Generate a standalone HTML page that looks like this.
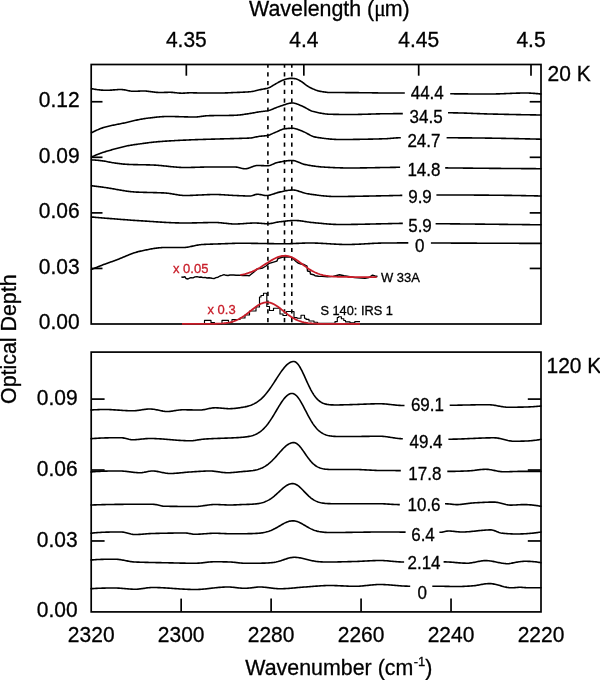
<!DOCTYPE html>
<html><head><meta charset="utf-8"><title>Optical depth spectra</title>
<style>html,body{margin:0;padding:0;background:#fff;width:600px;height:680px;overflow:hidden}
svg{display:block;font-family:"Liberation Sans",sans-serif;will-change:transform}
text{stroke-width:0.3px}</style></head>
<body>
<svg width="600" height="680" viewBox="0 0 600 680" font-family="Liberation Sans, sans-serif">
<rect x="91.20" y="64.50" width="449.80" height="259.50" fill="none" stroke="#000" stroke-width="1.7"/>
<rect x="91.20" y="352.10" width="449.80" height="259.80" fill="none" stroke="#000" stroke-width="1.7"/>
<line x1="186.33" y1="64.50" x2="186.33" y2="75.70" stroke="#000" stroke-width="1.7"/>
<line x1="303.83" y1="64.50" x2="303.83" y2="75.70" stroke="#000" stroke-width="1.7"/>
<line x1="418.69" y1="64.50" x2="418.69" y2="75.70" stroke="#000" stroke-width="1.7"/>
<line x1="531.00" y1="64.50" x2="531.00" y2="75.70" stroke="#000" stroke-width="1.7"/>
<line x1="91.20" y1="268.44" x2="102.50" y2="268.44" stroke="#000" stroke-width="1.7"/>
<line x1="529.70" y1="268.44" x2="541.00" y2="268.44" stroke="#000" stroke-width="1.7"/>
<line x1="91.20" y1="212.88" x2="102.50" y2="212.88" stroke="#000" stroke-width="1.7"/>
<line x1="529.70" y1="212.88" x2="541.00" y2="212.88" stroke="#000" stroke-width="1.7"/>
<line x1="91.20" y1="157.31" x2="102.50" y2="157.31" stroke="#000" stroke-width="1.7"/>
<line x1="529.70" y1="157.31" x2="541.00" y2="157.31" stroke="#000" stroke-width="1.7"/>
<line x1="91.20" y1="101.75" x2="102.50" y2="101.75" stroke="#000" stroke-width="1.7"/>
<line x1="529.70" y1="101.75" x2="541.00" y2="101.75" stroke="#000" stroke-width="1.7"/>
<line x1="181.16" y1="598.60" x2="181.16" y2="611.90" stroke="#000" stroke-width="1.7"/>
<line x1="271.12" y1="598.60" x2="271.12" y2="611.90" stroke="#000" stroke-width="1.7"/>
<line x1="361.08" y1="598.60" x2="361.08" y2="611.90" stroke="#000" stroke-width="1.7"/>
<line x1="451.04" y1="598.60" x2="451.04" y2="611.90" stroke="#000" stroke-width="1.7"/>
<line x1="91.20" y1="540.97" x2="104.60" y2="540.97" stroke="#000" stroke-width="1.7"/>
<line x1="527.80" y1="540.97" x2="541.00" y2="540.97" stroke="#000" stroke-width="1.7"/>
<line x1="91.20" y1="470.03" x2="104.60" y2="470.03" stroke="#000" stroke-width="1.7"/>
<line x1="527.80" y1="470.03" x2="541.00" y2="470.03" stroke="#000" stroke-width="1.7"/>
<line x1="91.20" y1="399.10" x2="104.60" y2="399.10" stroke="#000" stroke-width="1.7"/>
<line x1="527.80" y1="399.10" x2="541.00" y2="399.10" stroke="#000" stroke-width="1.7"/>
<line x1="267.90" y1="64.50" x2="267.90" y2="324.00" stroke="#000" stroke-width="1.6" stroke-dasharray="4.2 4.58" stroke-dashoffset="1"/>
<line x1="284.50" y1="64.50" x2="284.50" y2="324.00" stroke="#000" stroke-width="1.6" stroke-dasharray="4.2 4.58" stroke-dashoffset="1"/>
<line x1="291.80" y1="64.50" x2="291.80" y2="324.00" stroke="#000" stroke-width="1.6" stroke-dasharray="4.2 4.58" stroke-dashoffset="1"/>
<polyline points="91.5,88.70 92.5,88.89 93.5,89.06 94.5,89.23 95.5,89.39 96.5,89.53 97.5,89.67 98.5,89.79 99.5,89.90 100.5,90.00 101.5,90.09 102.5,90.16 103.5,90.22 104.5,90.26 105.5,90.29 106.5,90.30 107.5,90.29 108.5,90.26 109.5,90.22 110.5,90.16 111.5,90.08 112.5,90.01 113.5,89.92 114.5,89.84 115.5,89.75 116.5,89.68 117.5,89.61 118.5,89.56 119.5,89.52 120.5,89.50 121.5,89.52 122.5,89.59 123.5,89.72 124.5,89.88 125.5,90.07 126.5,90.28 127.5,90.50 128.5,90.71 129.5,90.90 130.5,91.07 131.5,91.20 132.5,91.28 133.5,91.30 134.5,91.29 135.5,91.26 136.5,91.23 137.5,91.19 138.5,91.14 139.5,91.10 140.5,91.06 141.5,91.03 142.5,91.01 143.5,91.00 144.5,91.02 145.5,91.07 146.5,91.14 147.5,91.24 148.5,91.35 149.5,91.47 150.5,91.60 151.5,91.73 152.5,91.86 153.5,92.00 154.5,92.12 155.5,92.23 156.5,92.33 157.5,92.41 158.5,92.47 159.5,92.50 160.5,92.50 161.5,92.49 162.5,92.47 163.5,92.44 164.5,92.41 165.5,92.39 166.5,92.36 167.5,92.33 168.5,92.31 169.5,92.30 170.5,92.30 171.5,92.34 172.5,92.41 173.5,92.49 174.5,92.60 175.5,92.71 176.5,92.82 177.5,92.94 178.5,93.03 179.5,93.12 180.5,93.17 181.5,93.20 182.5,93.19 183.5,93.15 184.5,93.09 185.5,93.03 186.5,92.95 187.5,92.89 188.5,92.83 189.5,92.80 190.5,92.80 191.5,92.81 192.5,92.82 193.5,92.84 194.5,92.86 195.5,92.88 196.5,92.91 197.5,92.93 198.5,92.95 199.5,92.97 200.5,92.99 201.5,93.00 202.5,93.00 203.5,93.00 204.5,93.00 205.5,93.00 206.5,93.00 207.5,93.00 208.5,93.00 209.5,93.00 210.5,93.00 211.5,93.00 212.5,93.00 213.5,93.00 214.5,93.00 215.5,93.00 216.5,93.00 217.5,93.00 218.5,93.00 219.5,93.00 220.5,93.00 221.5,92.99 222.5,92.98 223.5,92.96 224.5,92.93 225.5,92.90 226.5,92.86 227.5,92.83 228.5,92.78 229.5,92.74 230.5,92.70 231.5,92.65 232.5,92.61 233.5,92.56 234.5,92.52 235.5,92.48 236.5,92.44 237.5,92.40 238.5,92.37 239.5,92.33 240.5,92.29 241.5,92.25 242.5,92.21 243.5,92.16 244.5,92.11 245.5,92.06 246.5,92.00 247.5,91.94 248.5,91.87 249.5,91.79 250.5,91.70 251.5,91.57 252.5,91.41 253.5,91.21 254.5,91.00 255.5,90.76 256.5,90.52 257.5,90.27 258.5,90.03 259.5,89.81 260.5,89.60 261.5,89.41 262.5,89.22 263.5,89.04 264.5,88.85 265.5,88.64 266.5,88.41 267.5,88.15 268.5,87.83 269.5,87.43 270.5,86.94 271.5,86.39 272.5,85.79 273.5,85.18 274.5,84.56 275.5,83.96 276.5,83.40 277.5,82.87 278.5,82.31 279.5,81.75 280.5,81.20 281.5,80.71 282.5,80.28 283.5,79.94 284.5,79.63 285.5,79.34 286.5,79.05 287.5,78.80 288.5,78.59 289.5,78.42 290.5,78.33 291.5,78.30 292.5,78.35 293.5,78.46 294.5,78.62 295.5,78.80 296.5,79.03 297.5,79.40 298.5,79.89 299.5,80.43 300.5,80.98 301.5,81.59 302.5,82.28 303.5,83.01 304.5,83.77 305.5,84.54 306.5,85.29 307.5,86.00 308.5,86.66 309.5,87.25 310.5,87.74 311.5,88.22 312.5,88.68 313.5,89.12 314.5,89.54 315.5,89.94 316.5,90.30 317.5,90.63 318.5,90.91 319.5,91.15 320.5,91.34 321.5,91.53 322.5,91.70 323.5,91.87 324.5,92.02 325.5,92.16 326.5,92.28 327.5,92.38 328.5,92.45 329.5,92.49 330.5,92.51 331.5,92.51 332.5,92.52 333.5,92.53 334.5,92.54 335.5,92.54 336.5,92.55 337.5,92.55 338.5,92.56 339.5,92.56 340.5,92.56 341.5,92.56 342.5,92.57 343.5,92.57 344.5,92.57 345.5,92.58 346.5,92.58 347.5,92.59 348.5,92.59 349.5,92.60 350.5,92.60 351.5,92.61 352.5,92.62 353.5,92.63 354.5,92.63 355.5,92.64 356.5,92.65 357.5,92.66 358.5,92.67 359.5,92.68 360.5,92.69 361.5,92.70 362.5,92.71 363.5,92.73 364.5,92.74 365.5,92.75 366.5,92.76 367.5,92.77 368.5,92.78 369.5,92.79 370.5,92.81 371.5,92.82 372.5,92.83 373.5,92.85 374.5,92.87 375.5,92.89 376.5,92.90 377.5,92.92 378.5,92.94 379.5,92.95 380.5,92.97 381.5,92.98 382.5,92.99 383.5,93.00 384.5,93.00 385.5,93.00 386.5,93.00 387.5,93.00 388.5,93.00 389.5,93.00 390.5,93.00 391.5,93.00 392.5,93.00 393.5,93.00 394.5,93.00 395.5,93.00 396.5,93.00 397.5,93.00 398.5,93.00 399.5,93.00 400.5,93.00 401.5,93.00 402.5,93.00 403.5,93.00 404.5,93.00 405.5,93.00 406.5,93.01 407.5,93.01 408.5,93.02 409.5,93.03 410.5,93.04 411.5,93.05 412.5,93.06 413.5,93.07 414.5,93.09 415.5,93.10 416.5,93.12 417.5,93.14 418.5,93.16 419.5,93.18 420.5,93.20 421.5,93.22 422.5,93.24 423.5,93.26 424.5,93.28 425.5,93.31 426.5,93.33 427.5,93.35 428.5,93.38 429.5,93.40 430.5,93.43 431.5,93.45 432.5,93.47 433.5,93.50 434.5,93.52 435.5,93.54 436.5,93.56 437.5,93.59 438.5,93.61 439.5,93.63 440.5,93.65 441.5,93.67 442.5,93.69 443.5,93.70 444.5,93.72 445.5,93.74 446.5,93.75 447.5,93.76 448.5,93.78 449.5,93.79 450.5,93.80 451.5,93.80 452.5,93.81 453.5,93.82 454.5,93.83 455.5,93.83 456.5,93.84 457.5,93.85 458.5,93.86 459.5,93.86 460.5,93.87 461.5,93.88 462.5,93.89 463.5,93.89 464.5,93.90 465.5,93.91 466.5,93.91 467.5,93.92 468.5,93.93 469.5,93.93 470.5,93.94 471.5,93.94 472.5,93.95 473.5,93.95 474.5,93.96 475.5,93.96 476.5,93.97 477.5,93.97 478.5,93.98 479.5,93.98 480.5,93.98 481.5,93.99 482.5,93.99 483.5,93.99 484.5,93.99 485.5,94.00 486.5,94.00 487.5,94.00 488.5,94.00 489.5,94.00 490.5,94.00 491.5,93.99 492.5,93.99 493.5,93.97 494.5,93.96 495.5,93.94 496.5,93.91 497.5,93.89 498.5,93.86 499.5,93.83 500.5,93.79 501.5,93.76 502.5,93.72 503.5,93.68 504.5,93.64 505.5,93.60 506.5,93.56 507.5,93.52 508.5,93.47 509.5,93.43 510.5,93.39 511.5,93.35 512.5,93.31 513.5,93.27 514.5,93.24 515.5,93.20 516.5,93.17 517.5,93.14 518.5,93.11 519.5,93.08 520.5,93.06 521.5,93.04 522.5,93.02 523.5,93.01 524.5,93.00 525.5,93.00 526.5,93.00 527.5,93.02 528.5,93.05 529.5,93.09 530.5,93.13 531.5,93.19 532.5,93.26 533.5,93.33 534.5,93.41 535.5,93.49 536.5,93.58 537.5,93.67 538.5,93.76 539.5,93.86 540.5,93.95 541.0,94.00" fill="none" stroke="#000" stroke-width="1.60" stroke-linejoin="round" stroke-linecap="round"/>
<polyline points="91.5,132.80 92.5,132.29 93.5,131.78 94.5,131.28 95.5,130.80 96.5,130.32 97.5,129.87 98.5,129.43 99.5,129.01 100.5,128.61 101.5,128.23 102.5,127.88 103.5,127.55 104.5,127.25 105.5,126.97 106.5,126.70 107.5,126.45 108.5,126.21 109.5,125.97 110.5,125.75 111.5,125.54 112.5,125.33 113.5,125.12 114.5,124.93 115.5,124.73 116.5,124.54 117.5,124.34 118.5,124.15 119.5,123.95 120.5,123.76 121.5,123.55 122.5,123.34 123.5,123.13 124.5,122.91 125.5,122.68 126.5,122.45 127.5,122.21 128.5,121.98 129.5,121.74 130.5,121.50 131.5,121.27 132.5,121.03 133.5,120.79 134.5,120.56 135.5,120.33 136.5,120.11 137.5,119.89 138.5,119.68 139.5,119.48 140.5,119.28 141.5,119.09 142.5,118.92 143.5,118.75 144.5,118.60 145.5,118.45 146.5,118.32 147.5,118.20 148.5,118.08 149.5,117.96 150.5,117.84 151.5,117.72 152.5,117.61 153.5,117.49 154.5,117.38 155.5,117.27 156.5,117.17 157.5,117.07 158.5,116.97 159.5,116.89 160.5,116.81 161.5,116.74 162.5,116.67 163.5,116.62 164.5,116.57 165.5,116.54 166.5,116.51 167.5,116.50 168.5,116.50 169.5,116.50 170.5,116.51 171.5,116.52 172.5,116.54 173.5,116.55 174.5,116.57 175.5,116.60 176.5,116.62 177.5,116.64 178.5,116.67 179.5,116.70 180.5,116.73 181.5,116.75 182.5,116.78 183.5,116.81 184.5,116.84 185.5,116.86 186.5,116.89 187.5,116.91 188.5,116.93 189.5,116.95 190.5,116.97 191.5,116.98 192.5,116.99 193.5,117.00 194.5,117.00 195.5,116.99 196.5,116.94 197.5,116.86 198.5,116.76 199.5,116.65 200.5,116.51 201.5,116.38 202.5,116.24 203.5,116.10 204.5,115.98 205.5,115.87 206.5,115.78 207.5,115.72 208.5,115.69 209.5,115.66 210.5,115.64 211.5,115.62 212.5,115.60 213.5,115.58 214.5,115.57 215.5,115.56 216.5,115.55 217.5,115.54 218.5,115.53 219.5,115.52 220.5,115.51 221.5,115.50 222.5,115.49 223.5,115.49 224.5,115.48 225.5,115.47 226.5,115.46 227.5,115.45 228.5,115.43 229.5,115.42 230.5,115.40 231.5,115.38 232.5,115.36 233.5,115.34 234.5,115.31 235.5,115.28 236.5,115.23 237.5,115.16 238.5,115.07 239.5,114.97 240.5,114.85 241.5,114.73 242.5,114.59 243.5,114.45 244.5,114.31 245.5,114.16 246.5,114.01 247.5,113.87 248.5,113.73 249.5,113.58 250.5,113.41 251.5,113.24 252.5,113.07 253.5,112.88 254.5,112.70 255.5,112.51 256.5,112.33 257.5,112.16 258.5,111.99 259.5,111.83 260.5,111.68 261.5,111.55 262.5,111.43 263.5,111.32 264.5,111.20 265.5,111.07 266.5,110.92 267.5,110.75 268.5,110.53 269.5,110.26 270.5,109.94 271.5,109.58 272.5,109.19 273.5,108.78 274.5,108.36 275.5,107.94 276.5,107.53 277.5,107.13 278.5,106.75 279.5,106.41 280.5,106.10 281.5,105.77 282.5,105.43 283.5,105.08 284.5,104.73 285.5,104.40 286.5,104.08 287.5,103.78 288.5,103.52 289.5,103.31 290.5,103.14 291.5,103.04 292.5,103.00 293.5,103.06 294.5,103.21 295.5,103.45 296.5,103.77 297.5,104.13 298.5,104.54 299.5,104.97 300.5,105.41 301.5,105.84 302.5,106.25 303.5,106.69 304.5,107.19 305.5,107.74 306.5,108.32 307.5,108.91 308.5,109.48 309.5,110.03 310.5,110.51 311.5,110.93 312.5,111.25 313.5,111.51 314.5,111.77 315.5,112.02 316.5,112.27 317.5,112.50 318.5,112.73 319.5,112.94 320.5,113.14 321.5,113.33 322.5,113.50 323.5,113.66 324.5,113.80 325.5,113.93 326.5,114.03 327.5,114.12 328.5,114.19 329.5,114.24 330.5,114.26 331.5,114.28 332.5,114.31 333.5,114.33 334.5,114.35 335.5,114.37 336.5,114.38 337.5,114.40 338.5,114.41 339.5,114.43 340.5,114.44 341.5,114.45 342.5,114.46 343.5,114.47 344.5,114.48 345.5,114.49 346.5,114.49 347.5,114.50 348.5,114.50 349.5,114.50 350.5,114.50 351.5,114.50 352.5,114.49 353.5,114.48 354.5,114.47 355.5,114.46 356.5,114.44 357.5,114.43 358.5,114.41 359.5,114.39 360.5,114.36 361.5,114.34 362.5,114.32 363.5,114.29 364.5,114.26 365.5,114.23 366.5,114.21 367.5,114.18 368.5,114.15 369.5,114.12 370.5,114.09 371.5,114.06 372.5,114.03 373.5,114.00 374.5,113.97 375.5,113.95 376.5,113.92 377.5,113.89 378.5,113.87 379.5,113.85 380.5,113.82 381.5,113.80 382.5,113.79 383.5,113.77 384.5,113.76 385.5,113.74 386.5,113.73 387.5,113.72 388.5,113.71 389.5,113.70 390.5,113.70 391.5,113.69 392.5,113.68 393.5,113.67 394.5,113.67 395.5,113.66 396.5,113.65 397.5,113.64 398.5,113.63 399.5,113.63 400.5,113.62 401.5,113.61 402.5,113.59 403.5,113.58 404.5,113.57 405.5,113.55 406.5,113.54 407.5,113.52 408.5,113.50 409.5,113.49 410.5,113.47 411.5,113.45 412.5,113.43 413.5,113.41 414.5,113.38 415.5,113.36 416.5,113.34 417.5,113.32 418.5,113.30 419.5,113.27 420.5,113.25 421.5,113.23 422.5,113.20 423.5,113.18 424.5,113.16 425.5,113.13 426.5,113.11 427.5,113.09 428.5,113.07 429.5,113.04 430.5,113.02 431.5,113.00 432.5,112.98 433.5,112.96 434.5,112.94 435.5,112.93 436.5,112.91 437.5,112.89 438.5,112.88 439.5,112.87 440.5,112.85 441.5,112.84 442.5,112.83 443.5,112.82 444.5,112.82 445.5,112.81 446.5,112.80 447.5,112.80 448.5,112.80 449.5,112.80 450.5,112.80 451.5,112.81 452.5,112.82 453.5,112.83 454.5,112.85 455.5,112.86 456.5,112.88 457.5,112.90 458.5,112.93 459.5,112.95 460.5,112.98 461.5,113.01 462.5,113.04 463.5,113.07 464.5,113.10 465.5,113.14 466.5,113.17 467.5,113.21 468.5,113.24 469.5,113.28 470.5,113.32 471.5,113.36 472.5,113.40 473.5,113.44 474.5,113.48 475.5,113.51 476.5,113.55 477.5,113.59 478.5,113.63 479.5,113.67 480.5,113.71 481.5,113.74 482.5,113.78 483.5,113.81 484.5,113.84 485.5,113.88 486.5,113.91 487.5,113.94 488.5,113.96 489.5,113.99 490.5,114.01 491.5,114.04 492.5,114.06 493.5,114.08 494.5,114.11 495.5,114.13 496.5,114.15 497.5,114.17 498.5,114.20 499.5,114.22 500.5,114.24 501.5,114.26 502.5,114.29 503.5,114.31 504.5,114.33 505.5,114.35 506.5,114.37 507.5,114.39 508.5,114.42 509.5,114.44 510.5,114.46 511.5,114.48 512.5,114.50 513.5,114.52 514.5,114.54 515.5,114.56 516.5,114.58 517.5,114.60 518.5,114.62 519.5,114.64 520.5,114.66 521.5,114.68 522.5,114.69 523.5,114.71 524.5,114.73 525.5,114.75 526.5,114.77 527.5,114.78 528.5,114.80 529.5,114.82 530.5,114.84 531.5,114.85 532.5,114.87 533.5,114.89 534.5,114.90 535.5,114.92 536.5,114.93 537.5,114.95 538.5,114.96 539.5,114.98 540.5,114.99 541.0,115.00" fill="none" stroke="#000" stroke-width="1.60" stroke-linejoin="round" stroke-linecap="round"/>
<polyline points="91.5,157.00 92.5,156.55 93.5,156.11 94.5,155.67 95.5,155.24 96.5,154.83 97.5,154.42 98.5,154.03 99.5,153.65 100.5,153.28 101.5,152.93 102.5,152.59 103.5,152.26 104.5,151.94 105.5,151.62 106.5,151.32 107.5,151.02 108.5,150.73 109.5,150.44 110.5,150.15 111.5,149.88 112.5,149.60 113.5,149.33 114.5,149.05 115.5,148.78 116.5,148.51 117.5,148.24 118.5,147.97 119.5,147.70 120.5,147.43 121.5,147.17 122.5,146.92 123.5,146.67 124.5,146.44 125.5,146.21 126.5,146.00 127.5,145.80 128.5,145.61 129.5,145.43 130.5,145.26 131.5,145.09 132.5,144.94 133.5,144.79 134.5,144.64 135.5,144.50 136.5,144.36 137.5,144.22 138.5,144.08 139.5,143.95 140.5,143.81 141.5,143.67 142.5,143.53 143.5,143.39 144.5,143.26 145.5,143.12 146.5,142.98 147.5,142.84 148.5,142.71 149.5,142.58 150.5,142.46 151.5,142.34 152.5,142.23 153.5,142.12 154.5,142.02 155.5,141.93 156.5,141.84 157.5,141.75 158.5,141.67 159.5,141.59 160.5,141.51 161.5,141.43 162.5,141.36 163.5,141.29 164.5,141.22 165.5,141.16 166.5,141.09 167.5,141.03 168.5,140.97 169.5,140.91 170.5,140.85 171.5,140.79 172.5,140.74 173.5,140.68 174.5,140.63 175.5,140.57 176.5,140.52 177.5,140.47 178.5,140.41 179.5,140.36 180.5,140.31 181.5,140.26 182.5,140.22 183.5,140.17 184.5,140.12 185.5,140.08 186.5,140.03 187.5,139.99 188.5,139.95 189.5,139.90 190.5,139.86 191.5,139.82 192.5,139.78 193.5,139.75 194.5,139.71 195.5,139.67 196.5,139.63 197.5,139.60 198.5,139.57 199.5,139.53 200.5,139.50 201.5,139.47 202.5,139.43 203.5,139.40 204.5,139.37 205.5,139.34 206.5,139.31 207.5,139.28 208.5,139.26 209.5,139.23 210.5,139.20 211.5,139.17 212.5,139.14 213.5,139.12 214.5,139.09 215.5,139.06 216.5,139.03 217.5,139.01 218.5,138.98 219.5,138.95 220.5,138.92 221.5,138.89 222.5,138.87 223.5,138.84 224.5,138.81 225.5,138.79 226.5,138.76 227.5,138.74 228.5,138.71 229.5,138.69 230.5,138.66 231.5,138.64 232.5,138.61 233.5,138.59 234.5,138.56 235.5,138.53 236.5,138.51 237.5,138.48 238.5,138.45 239.5,138.42 240.5,138.38 241.5,138.35 242.5,138.32 243.5,138.29 244.5,138.26 245.5,138.22 246.5,138.18 247.5,138.14 248.5,138.09 249.5,138.03 250.5,137.96 251.5,137.85 252.5,137.69 253.5,137.51 254.5,137.31 255.5,137.09 256.5,136.88 257.5,136.67 258.5,136.48 259.5,136.32 260.5,136.19 261.5,136.09 262.5,136.00 263.5,135.93 264.5,135.85 265.5,135.75 266.5,135.64 267.5,135.50 268.5,135.28 269.5,134.95 270.5,134.55 271.5,134.10 272.5,133.62 273.5,133.15 274.5,132.70 275.5,132.30 276.5,131.87 277.5,131.42 278.5,130.96 279.5,130.50 280.5,130.06 281.5,129.66 282.5,129.31 283.5,129.02 284.5,128.82 285.5,128.70 286.5,128.59 287.5,128.50 288.5,128.42 289.5,128.35 290.5,128.29 291.5,128.26 292.5,128.25 293.5,128.30 294.5,128.45 295.5,128.67 296.5,128.96 297.5,129.30 298.5,129.68 299.5,130.07 300.5,130.48 301.5,130.87 302.5,131.25 303.5,131.65 304.5,132.11 305.5,132.61 306.5,133.15 307.5,133.71 308.5,134.27 309.5,134.82 310.5,135.35 311.5,135.83 312.5,136.26 313.5,136.62 314.5,136.90 315.5,137.09 316.5,137.26 317.5,137.43 318.5,137.59 319.5,137.75 320.5,137.90 321.5,138.05 322.5,138.19 323.5,138.33 324.5,138.45 325.5,138.58 326.5,138.69 327.5,138.80 328.5,138.91 329.5,139.00 330.5,139.09 331.5,139.17 332.5,139.24 333.5,139.30 334.5,139.36 335.5,139.40 336.5,139.44 337.5,139.47 338.5,139.49 339.5,139.50 340.5,139.50 341.5,139.50 342.5,139.50 343.5,139.49 344.5,139.49 345.5,139.49 346.5,139.48 347.5,139.47 348.5,139.47 349.5,139.46 350.5,139.45 351.5,139.44 352.5,139.43 353.5,139.42 354.5,139.41 355.5,139.40 356.5,139.38 357.5,139.37 358.5,139.35 359.5,139.34 360.5,139.32 361.5,139.31 362.5,139.29 363.5,139.27 364.5,139.25 365.5,139.23 366.5,139.21 367.5,139.19 368.5,139.17 369.5,139.15 370.5,139.13 371.5,139.11 372.5,139.08 373.5,139.06 374.5,139.03 375.5,139.01 376.5,138.98 377.5,138.96 378.5,138.93 379.5,138.90 380.5,138.88 381.5,138.85 382.5,138.82 383.5,138.79 384.5,138.76 385.5,138.73 386.5,138.69 387.5,138.63 388.5,138.56 389.5,138.48 390.5,138.40 391.5,138.31 392.5,138.22 393.5,138.13 394.5,138.05 395.5,137.98 396.5,137.91 397.5,137.86 398.5,137.82 399.5,137.80 400.5,137.80 401.5,137.80 402.5,137.80 403.5,137.80 404.5,137.80 405.5,137.80 406.5,137.80 407.5,137.80 408.5,137.80 409.5,137.80 410.5,137.80 411.5,137.80 412.5,137.80 413.5,137.80 414.5,137.80 415.5,137.80 416.5,137.80 417.5,137.80 418.5,137.80 419.5,137.80 420.5,137.80 421.5,137.80 422.5,137.80 423.5,137.80 424.5,137.80 425.5,137.80 426.5,137.80 427.5,137.80 428.5,137.80 429.5,137.80 430.5,137.80 431.5,137.80 432.5,137.80 433.5,137.80 434.5,137.80 435.5,137.80 436.5,137.80 437.5,137.80 438.5,137.80 439.5,137.80 440.5,137.80 441.5,137.80 442.5,137.80 443.5,137.80 444.5,137.80 445.5,137.80 446.5,137.80 447.5,137.80 448.5,137.80 449.5,137.80 450.5,137.80 451.5,137.80 452.5,137.81 453.5,137.81 454.5,137.81 455.5,137.81 456.5,137.82 457.5,137.82 458.5,137.83 459.5,137.83 460.5,137.84 461.5,137.84 462.5,137.85 463.5,137.85 464.5,137.86 465.5,137.87 466.5,137.87 467.5,137.88 468.5,137.89 469.5,137.90 470.5,137.91 471.5,137.92 472.5,137.93 473.5,137.94 474.5,137.95 475.5,137.96 476.5,137.97 477.5,137.98 478.5,137.99 479.5,138.00 480.5,138.01 481.5,138.03 482.5,138.04 483.5,138.05 484.5,138.06 485.5,138.08 486.5,138.09 487.5,138.11 488.5,138.12 489.5,138.14 490.5,138.15 491.5,138.17 492.5,138.18 493.5,138.20 494.5,138.21 495.5,138.23 496.5,138.25 497.5,138.26 498.5,138.28 499.5,138.30 500.5,138.32 501.5,138.33 502.5,138.35 503.5,138.37 504.5,138.39 505.5,138.41 506.5,138.43 507.5,138.45 508.5,138.47 509.5,138.49 510.5,138.51 511.5,138.53 512.5,138.55 513.5,138.57 514.5,138.59 515.5,138.61 516.5,138.63 517.5,138.65 518.5,138.67 519.5,138.69 520.5,138.72 521.5,138.74 522.5,138.76 523.5,138.78 524.5,138.81 525.5,138.83 526.5,138.85 527.5,138.87 528.5,138.90 529.5,138.92 530.5,138.95 531.5,138.97 532.5,138.99 533.5,139.02 534.5,139.04 535.5,139.06 536.5,139.09 537.5,139.11 538.5,139.14 539.5,139.16 540.5,139.19 541.0,139.20" fill="none" stroke="#000" stroke-width="1.60" stroke-linejoin="round" stroke-linecap="round"/>
<polyline points="91.5,159.90 92.5,159.95 93.5,160.01 94.5,160.07 95.5,160.15 96.5,160.23 97.5,160.32 98.5,160.41 99.5,160.51 100.5,160.61 101.5,160.72 102.5,160.85 103.5,160.99 104.5,161.16 105.5,161.33 106.5,161.52 107.5,161.71 108.5,161.91 109.5,162.11 110.5,162.30 111.5,162.49 112.5,162.67 113.5,162.83 114.5,162.97 115.5,163.10 116.5,163.24 117.5,163.37 118.5,163.50 119.5,163.62 120.5,163.75 121.5,163.86 122.5,163.97 123.5,164.08 124.5,164.17 125.5,164.25 126.5,164.32 127.5,164.38 128.5,164.42 129.5,164.46 130.5,164.49 131.5,164.53 132.5,164.56 133.5,164.58 134.5,164.61 135.5,164.63 136.5,164.65 137.5,164.67 138.5,164.69 139.5,164.71 140.5,164.72 141.5,164.74 142.5,164.76 143.5,164.77 144.5,164.79 145.5,164.81 146.5,164.83 147.5,164.85 148.5,164.88 149.5,164.91 150.5,164.93 151.5,164.97 152.5,165.00 153.5,165.04 154.5,165.09 155.5,165.15 156.5,165.22 157.5,165.29 158.5,165.37 159.5,165.45 160.5,165.54 161.5,165.64 162.5,165.74 163.5,165.84 164.5,165.94 165.5,166.05 166.5,166.16 167.5,166.26 168.5,166.37 169.5,166.48 170.5,166.58 171.5,166.68 172.5,166.78 173.5,166.88 174.5,166.97 175.5,167.06 176.5,167.14 177.5,167.21 178.5,167.28 179.5,167.34 180.5,167.39 181.5,167.43 182.5,167.46 183.5,167.49 184.5,167.50 185.5,167.50 186.5,167.49 187.5,167.49 188.5,167.47 189.5,167.46 190.5,167.44 191.5,167.42 192.5,167.39 193.5,167.37 194.5,167.34 195.5,167.31 196.5,167.28 197.5,167.25 198.5,167.22 199.5,167.19 200.5,167.16 201.5,167.13 202.5,167.11 203.5,167.08 204.5,167.06 205.5,167.04 206.5,167.03 207.5,167.01 208.5,167.01 209.5,167.00 210.5,167.00 211.5,167.00 212.5,167.00 213.5,167.00 214.5,167.00 215.5,167.00 216.5,167.00 217.5,167.00 218.5,167.00 219.5,167.00 220.5,167.00 221.5,167.00 222.5,167.00 223.5,167.00 224.5,167.00 225.5,167.00 226.5,167.00 227.5,167.00 228.5,167.00 229.5,167.00 230.5,167.00 231.5,167.00 232.5,167.00 233.5,167.00 234.5,167.00 235.5,167.01 236.5,167.11 237.5,167.27 238.5,167.49 239.5,167.74 240.5,168.01 241.5,168.26 242.5,168.48 243.5,168.64 244.5,168.74 245.5,168.73 246.5,168.62 247.5,168.41 248.5,168.13 249.5,167.79 250.5,167.42 251.5,167.03 252.5,166.64 253.5,166.29 254.5,165.97 255.5,165.72 256.5,165.56 257.5,165.50 258.5,165.51 259.5,165.53 260.5,165.55 261.5,165.59 262.5,165.62 263.5,165.66 264.5,165.70 265.5,165.72 266.5,165.74 267.5,165.75 268.5,165.68 269.5,165.48 270.5,165.17 271.5,164.80 272.5,164.37 273.5,163.93 274.5,163.49 275.5,163.09 276.5,162.75 277.5,162.50 278.5,162.30 279.5,162.10 280.5,161.90 281.5,161.71 282.5,161.52 283.5,161.35 284.5,161.18 285.5,161.03 286.5,160.89 287.5,160.77 288.5,160.67 289.5,160.59 290.5,160.53 291.5,160.50 292.5,160.51 293.5,160.62 294.5,160.81 295.5,161.08 296.5,161.40 297.5,161.78 298.5,162.18 299.5,162.59 300.5,163.01 301.5,163.41 302.5,163.79 303.5,164.12 304.5,164.39 305.5,164.60 306.5,164.79 307.5,164.98 308.5,165.17 309.5,165.35 310.5,165.53 311.5,165.70 312.5,165.86 313.5,166.01 314.5,166.16 315.5,166.30 316.5,166.43 317.5,166.55 318.5,166.66 319.5,166.76 320.5,166.85 321.5,166.93 322.5,167.00 323.5,167.06 324.5,167.12 325.5,167.18 326.5,167.23 327.5,167.29 328.5,167.34 329.5,167.40 330.5,167.45 331.5,167.50 332.5,167.55 333.5,167.59 334.5,167.64 335.5,167.68 336.5,167.72 337.5,167.76 338.5,167.79 339.5,167.82 340.5,167.85 341.5,167.88 342.5,167.91 343.5,167.93 344.5,167.95 345.5,167.97 346.5,167.98 347.5,167.99 348.5,168.00 349.5,168.00 350.5,168.00 351.5,168.00 352.5,167.99 353.5,167.99 354.5,167.98 355.5,167.98 356.5,167.97 357.5,167.96 358.5,167.95 359.5,167.94 360.5,167.92 361.5,167.91 362.5,167.89 363.5,167.88 364.5,167.86 365.5,167.85 366.5,167.83 367.5,167.81 368.5,167.79 369.5,167.77 370.5,167.75 371.5,167.74 372.5,167.72 373.5,167.70 374.5,167.68 375.5,167.66 376.5,167.64 377.5,167.62 378.5,167.60 379.5,167.59 380.5,167.57 381.5,167.55 382.5,167.54 383.5,167.52 384.5,167.51 385.5,167.49 386.5,167.48 387.5,167.46 388.5,167.44 389.5,167.43 390.5,167.41 391.5,167.39 392.5,167.37 393.5,167.36 394.5,167.34 395.5,167.33 396.5,167.32 397.5,167.31 398.5,167.30 399.5,167.30 400.5,167.30 401.5,167.30 402.5,167.30 403.5,167.31 404.5,167.31 405.5,167.32 406.5,167.32 407.5,167.33 408.5,167.34 409.5,167.35 410.5,167.36 411.5,167.37 412.5,167.38 413.5,167.40 414.5,167.41 415.5,167.42 416.5,167.44 417.5,167.45 418.5,167.47 419.5,167.48 420.5,167.50 421.5,167.51 422.5,167.53 423.5,167.55 424.5,167.57 425.5,167.58 426.5,167.60 427.5,167.62 428.5,167.64 429.5,167.65 430.5,167.67 431.5,167.69 432.5,167.70 433.5,167.72 434.5,167.74 435.5,167.75 436.5,167.77 437.5,167.79 438.5,167.80 439.5,167.82 440.5,167.83 441.5,167.85 442.5,167.86 443.5,167.87 444.5,167.88 445.5,167.89 446.5,167.91 447.5,167.92 448.5,167.93 449.5,167.94 450.5,167.95 451.5,167.96 452.5,167.97 453.5,167.98 454.5,167.99 455.5,168.00 456.5,168.01 457.5,168.02 458.5,168.03 459.5,168.04 460.5,168.05 461.5,168.06 462.5,168.07 463.5,168.08 464.5,168.09 465.5,168.10 466.5,168.11 467.5,168.12 468.5,168.13 469.5,168.14 470.5,168.15 471.5,168.16 472.5,168.17 473.5,168.18 474.5,168.19 475.5,168.20 476.5,168.21 477.5,168.22 478.5,168.23 479.5,168.24 480.5,168.24 481.5,168.25 482.5,168.26 483.5,168.27 484.5,168.28 485.5,168.29 486.5,168.30 487.5,168.31 488.5,168.32 489.5,168.33 490.5,168.34 491.5,168.34 492.5,168.35 493.5,168.36 494.5,168.37 495.5,168.38 496.5,168.39 497.5,168.40 498.5,168.40 499.5,168.41 500.5,168.42 501.5,168.43 502.5,168.44 503.5,168.45 504.5,168.45 505.5,168.46 506.5,168.47 507.5,168.48 508.5,168.49 509.5,168.49 510.5,168.50 511.5,168.51 512.5,168.52 513.5,168.52 514.5,168.53 515.5,168.54 516.5,168.55 517.5,168.55 518.5,168.56 519.5,168.57 520.5,168.57 521.5,168.58 522.5,168.59 523.5,168.59 524.5,168.60 525.5,168.61 526.5,168.61 527.5,168.62 528.5,168.63 529.5,168.63 530.5,168.64 531.5,168.65 532.5,168.65 533.5,168.66 534.5,168.66 535.5,168.67 536.5,168.68 537.5,168.68 538.5,168.69 539.5,168.69 540.5,168.70 541.0,168.70" fill="none" stroke="#000" stroke-width="1.60" stroke-linejoin="round" stroke-linecap="round"/>
<polyline points="91.5,185.75 92.5,185.87 93.5,186.00 94.5,186.12 95.5,186.25 96.5,186.38 97.5,186.50 98.5,186.63 99.5,186.76 100.5,186.89 101.5,187.03 102.5,187.16 103.5,187.29 104.5,187.43 105.5,187.57 106.5,187.72 107.5,187.87 108.5,188.03 109.5,188.19 110.5,188.36 111.5,188.53 112.5,188.71 113.5,188.89 114.5,189.07 115.5,189.25 116.5,189.43 117.5,189.61 118.5,189.79 119.5,189.97 120.5,190.15 121.5,190.32 122.5,190.49 123.5,190.66 124.5,190.82 125.5,190.97 126.5,191.12 127.5,191.26 128.5,191.39 129.5,191.52 130.5,191.63 131.5,191.73 132.5,191.82 133.5,191.90 134.5,191.97 135.5,192.03 136.5,192.08 137.5,192.12 138.5,192.17 139.5,192.21 140.5,192.24 141.5,192.28 142.5,192.31 143.5,192.34 144.5,192.37 145.5,192.39 146.5,192.42 147.5,192.44 148.5,192.47 149.5,192.49 150.5,192.51 151.5,192.53 152.5,192.56 153.5,192.58 154.5,192.61 155.5,192.63 156.5,192.66 157.5,192.69 158.5,192.72 159.5,192.76 160.5,192.79 161.5,192.83 162.5,192.88 163.5,192.92 164.5,192.97 165.5,193.03 166.5,193.11 167.5,193.21 168.5,193.33 169.5,193.47 170.5,193.62 171.5,193.78 172.5,193.95 173.5,194.12 174.5,194.30 175.5,194.47 176.5,194.64 177.5,194.81 178.5,194.96 179.5,195.10 180.5,195.22 181.5,195.32 182.5,195.41 183.5,195.47 184.5,195.50 185.5,195.50 186.5,195.49 187.5,195.48 188.5,195.46 189.5,195.44 190.5,195.41 191.5,195.38 192.5,195.34 193.5,195.30 194.5,195.26 195.5,195.22 196.5,195.17 197.5,195.12 198.5,195.07 199.5,195.02 200.5,194.98 201.5,194.93 202.5,194.88 203.5,194.83 204.5,194.78 205.5,194.74 206.5,194.70 207.5,194.66 208.5,194.62 209.5,194.59 210.5,194.56 211.5,194.54 212.5,194.52 213.5,194.51 214.5,194.50 215.5,194.50 216.5,194.51 217.5,194.53 218.5,194.56 219.5,194.60 220.5,194.64 221.5,194.69 222.5,194.75 223.5,194.81 224.5,194.87 225.5,194.93 226.5,195.00 227.5,195.07 228.5,195.13 229.5,195.20 230.5,195.26 231.5,195.32 232.5,195.38 233.5,195.43 234.5,195.48 235.5,195.52 236.5,195.56 237.5,195.61 238.5,195.65 239.5,195.70 240.5,195.74 241.5,195.78 242.5,195.82 243.5,195.86 244.5,195.90 245.5,195.93 246.5,195.96 247.5,195.98 248.5,195.99 249.5,196.00 250.5,195.98 251.5,195.82 252.5,195.55 253.5,195.21 254.5,194.87 255.5,194.56 256.5,194.34 257.5,194.25 258.5,194.30 259.5,194.42 260.5,194.59 261.5,194.79 262.5,195.01 263.5,195.21 264.5,195.37 265.5,195.47 266.5,195.50 267.5,195.44 268.5,195.31 269.5,195.12 270.5,194.88 271.5,194.60 272.5,194.29 273.5,193.96 274.5,193.62 275.5,193.28 276.5,192.95 277.5,192.63 278.5,192.35 279.5,192.10 280.5,191.90 281.5,191.69 282.5,191.48 283.5,191.26 284.5,191.05 285.5,190.84 286.5,190.65 287.5,190.47 288.5,190.31 289.5,190.18 290.5,190.08 291.5,190.02 292.5,190.00 293.5,190.04 294.5,190.15 295.5,190.32 296.5,190.54 297.5,190.81 298.5,191.11 299.5,191.43 300.5,191.77 301.5,192.11 302.5,192.45 303.5,192.77 304.5,193.07 305.5,193.34 306.5,193.57 307.5,193.75 308.5,193.90 309.5,194.05 310.5,194.20 311.5,194.34 312.5,194.49 313.5,194.63 314.5,194.77 315.5,194.91 316.5,195.05 317.5,195.18 318.5,195.31 319.5,195.43 320.5,195.55 321.5,195.67 322.5,195.77 323.5,195.88 324.5,195.97 325.5,196.06 326.5,196.14 327.5,196.22 328.5,196.29 329.5,196.35 330.5,196.40 331.5,196.44 332.5,196.47 333.5,196.49 334.5,196.50 335.5,196.50 336.5,196.50 337.5,196.50 338.5,196.49 339.5,196.49 340.5,196.48 341.5,196.48 342.5,196.47 343.5,196.46 344.5,196.46 345.5,196.45 346.5,196.44 347.5,196.43 348.5,196.41 349.5,196.40 350.5,196.39 351.5,196.37 352.5,196.36 353.5,196.35 354.5,196.33 355.5,196.31 356.5,196.30 357.5,196.28 358.5,196.26 359.5,196.25 360.5,196.23 361.5,196.21 362.5,196.19 363.5,196.17 364.5,196.15 365.5,196.13 366.5,196.11 367.5,196.10 368.5,196.08 369.5,196.06 370.5,196.03 371.5,196.01 372.5,195.99 373.5,195.97 374.5,195.95 375.5,195.93 376.5,195.91 377.5,195.89 378.5,195.87 379.5,195.85 380.5,195.83 381.5,195.82 382.5,195.80 383.5,195.78 384.5,195.76 385.5,195.74 386.5,195.72 387.5,195.70 388.5,195.68 389.5,195.66 390.5,195.63 391.5,195.61 392.5,195.59 393.5,195.56 394.5,195.54 395.5,195.52 396.5,195.49 397.5,195.47 398.5,195.45 399.5,195.43 400.5,195.42 401.5,195.40 402.5,195.38 403.5,195.37 404.5,195.35 405.5,195.34 406.5,195.32 407.5,195.31 408.5,195.29 409.5,195.28 410.5,195.26 411.5,195.24 412.5,195.23 413.5,195.21 414.5,195.20 415.5,195.18 416.5,195.17 417.5,195.16 418.5,195.14 419.5,195.13 420.5,195.12 421.5,195.11 422.5,195.09 423.5,195.08 424.5,195.07 425.5,195.06 426.5,195.05 427.5,195.04 428.5,195.04 429.5,195.03 430.5,195.02 431.5,195.02 432.5,195.01 433.5,195.01 434.5,195.00 435.5,195.00 436.5,195.00 437.5,195.00 438.5,195.00 439.5,195.00 440.5,195.00 441.5,195.00 442.5,195.00 443.5,195.00 444.5,195.00 445.5,195.00 446.5,195.00 447.5,195.00 448.5,195.01 449.5,195.01 450.5,195.01 451.5,195.01 452.5,195.01 453.5,195.01 454.5,195.01 455.5,195.02 456.5,195.02 457.5,195.02 458.5,195.02 459.5,195.02 460.5,195.03 461.5,195.03 462.5,195.03 463.5,195.03 464.5,195.04 465.5,195.04 466.5,195.04 467.5,195.05 468.5,195.05 469.5,195.06 470.5,195.06 471.5,195.06 472.5,195.07 473.5,195.07 474.5,195.08 475.5,195.08 476.5,195.09 477.5,195.09 478.5,195.10 479.5,195.11 480.5,195.11 481.5,195.12 482.5,195.13 483.5,195.13 484.5,195.14 485.5,195.15 486.5,195.15 487.5,195.16 488.5,195.17 489.5,195.18 490.5,195.19 491.5,195.19 492.5,195.20 493.5,195.21 494.5,195.22 495.5,195.23 496.5,195.24 497.5,195.25 498.5,195.26 499.5,195.27 500.5,195.28 501.5,195.29 502.5,195.31 503.5,195.32 504.5,195.33 505.5,195.34 506.5,195.36 507.5,195.37 508.5,195.38 509.5,195.40 510.5,195.41 511.5,195.42 512.5,195.44 513.5,195.45 514.5,195.47 515.5,195.48 516.5,195.50 517.5,195.52 518.5,195.53 519.5,195.55 520.5,195.57 521.5,195.58 522.5,195.60 523.5,195.62 524.5,195.64 525.5,195.66 526.5,195.68 527.5,195.70 528.5,195.72 529.5,195.74 530.5,195.76 531.5,195.78 532.5,195.80 533.5,195.82 534.5,195.85 535.5,195.87 536.5,195.89 537.5,195.91 538.5,195.94 539.5,195.96 540.5,195.99 541.0,196.00" fill="none" stroke="#000" stroke-width="1.60" stroke-linejoin="round" stroke-linecap="round"/>
<polyline points="91.5,217.00 92.5,217.09 93.5,217.17 94.5,217.26 95.5,217.35 96.5,217.43 97.5,217.52 98.5,217.60 99.5,217.68 100.5,217.77 101.5,217.85 102.5,217.94 103.5,218.02 104.5,218.10 105.5,218.18 106.5,218.26 107.5,218.34 108.5,218.42 109.5,218.50 110.5,218.58 111.5,218.66 112.5,218.74 113.5,218.82 114.5,218.90 115.5,218.97 116.5,219.05 117.5,219.13 118.5,219.21 119.5,219.29 120.5,219.37 121.5,219.44 122.5,219.52 123.5,219.60 124.5,219.67 125.5,219.75 126.5,219.82 127.5,219.90 128.5,219.97 129.5,220.05 130.5,220.12 131.5,220.19 132.5,220.26 133.5,220.33 134.5,220.40 135.5,220.46 136.5,220.53 137.5,220.59 138.5,220.66 139.5,220.72 140.5,220.78 141.5,220.84 142.5,220.90 143.5,220.97 144.5,221.03 145.5,221.10 146.5,221.16 147.5,221.23 148.5,221.30 149.5,221.37 150.5,221.43 151.5,221.50 152.5,221.57 153.5,221.63 154.5,221.70 155.5,221.77 156.5,221.83 157.5,221.90 158.5,221.97 159.5,222.03 160.5,222.09 161.5,222.15 162.5,222.21 163.5,222.27 164.5,222.33 165.5,222.39 166.5,222.44 167.5,222.49 168.5,222.55 169.5,222.59 170.5,222.64 171.5,222.68 172.5,222.73 173.5,222.77 174.5,222.80 175.5,222.84 176.5,222.87 177.5,222.90 178.5,222.92 179.5,222.94 180.5,222.96 181.5,222.98 182.5,222.99 183.5,223.00 184.5,223.00 185.5,223.00 186.5,223.00 187.5,222.99 188.5,222.98 189.5,222.97 190.5,222.96 191.5,222.94 192.5,222.92 193.5,222.90 194.5,222.88 195.5,222.86 196.5,222.84 197.5,222.81 198.5,222.79 199.5,222.76 200.5,222.74 201.5,222.71 202.5,222.69 203.5,222.66 204.5,222.64 205.5,222.62 206.5,222.60 207.5,222.58 208.5,222.56 209.5,222.54 210.5,222.53 211.5,222.52 212.5,222.51 213.5,222.50 214.5,222.50 215.5,222.50 216.5,222.52 217.5,222.56 218.5,222.62 219.5,222.69 220.5,222.78 221.5,222.87 222.5,222.97 223.5,223.08 224.5,223.19 225.5,223.31 226.5,223.42 227.5,223.53 228.5,223.63 229.5,223.72 230.5,223.81 231.5,223.88 232.5,223.94 233.5,223.98 234.5,224.00 235.5,224.00 236.5,223.98 237.5,223.96 238.5,223.92 239.5,223.87 240.5,223.81 241.5,223.75 242.5,223.68 243.5,223.61 244.5,223.54 245.5,223.46 246.5,223.39 247.5,223.32 248.5,223.25 249.5,223.19 250.5,223.13 251.5,223.08 252.5,223.04 253.5,223.02 254.5,223.00 255.5,223.00 256.5,223.03 257.5,223.08 258.5,223.14 259.5,223.22 260.5,223.31 261.5,223.40 262.5,223.49 263.5,223.57 264.5,223.64 265.5,223.70 266.5,223.74 267.5,223.75 268.5,223.72 269.5,223.64 270.5,223.52 271.5,223.36 272.5,223.18 273.5,222.98 274.5,222.76 275.5,222.54 276.5,222.33 277.5,222.14 278.5,221.96 279.5,221.81 280.5,221.69 281.5,221.58 282.5,221.47 283.5,221.35 284.5,221.24 285.5,221.12 286.5,221.02 287.5,220.92 288.5,220.82 289.5,220.74 290.5,220.67 291.5,220.60 292.5,220.55 293.5,220.52 294.5,220.50 295.5,220.50 296.5,220.53 297.5,220.59 298.5,220.67 299.5,220.77 300.5,220.88 301.5,221.01 302.5,221.16 303.5,221.31 304.5,221.46 305.5,221.62 306.5,221.78 307.5,221.93 308.5,222.08 309.5,222.22 310.5,222.34 311.5,222.45 312.5,222.55 313.5,222.64 314.5,222.73 315.5,222.83 316.5,222.93 317.5,223.02 318.5,223.12 319.5,223.22 320.5,223.31 321.5,223.41 322.5,223.50 323.5,223.60 324.5,223.69 325.5,223.77 326.5,223.86 327.5,223.94 328.5,224.02 329.5,224.09 330.5,224.16 331.5,224.22 332.5,224.28 333.5,224.33 334.5,224.38 335.5,224.42 336.5,224.45 337.5,224.47 338.5,224.49 339.5,224.50 340.5,224.50 341.5,224.50 342.5,224.50 343.5,224.49 344.5,224.49 345.5,224.48 346.5,224.47 347.5,224.46 348.5,224.45 349.5,224.44 350.5,224.43 351.5,224.42 352.5,224.41 353.5,224.39 354.5,224.38 355.5,224.36 356.5,224.34 357.5,224.33 358.5,224.31 359.5,224.29 360.5,224.27 361.5,224.25 362.5,224.23 363.5,224.21 364.5,224.19 365.5,224.17 366.5,224.15 367.5,224.12 368.5,224.10 369.5,224.08 370.5,224.06 371.5,224.04 372.5,224.01 373.5,223.99 374.5,223.97 375.5,223.95 376.5,223.92 377.5,223.90 378.5,223.88 379.5,223.86 380.5,223.84 381.5,223.82 382.5,223.80 383.5,223.78 384.5,223.76 385.5,223.74 386.5,223.72 387.5,223.70 388.5,223.67 389.5,223.64 390.5,223.62 391.5,223.59 392.5,223.56 393.5,223.54 394.5,223.51 395.5,223.49 396.5,223.46 397.5,223.44 398.5,223.43 399.5,223.41 400.5,223.41 401.5,223.40 402.5,223.40 403.5,223.40 404.5,223.40 405.5,223.41 406.5,223.41 407.5,223.41 408.5,223.42 409.5,223.42 410.5,223.43 411.5,223.44 412.5,223.45 413.5,223.45 414.5,223.46 415.5,223.47 416.5,223.48 417.5,223.49 418.5,223.50 419.5,223.51 420.5,223.52 421.5,223.53 422.5,223.55 423.5,223.56 424.5,223.57 425.5,223.58 426.5,223.59 427.5,223.60 428.5,223.62 429.5,223.63 430.5,223.64 431.5,223.65 432.5,223.66 433.5,223.67 434.5,223.68 435.5,223.69 436.5,223.70 437.5,223.71 438.5,223.72 439.5,223.73 440.5,223.74 441.5,223.75 442.5,223.76 443.5,223.77 444.5,223.78 445.5,223.79 446.5,223.80 447.5,223.81 448.5,223.81 449.5,223.82 450.5,223.83 451.5,223.84 452.5,223.85 453.5,223.86 454.5,223.87 455.5,223.88 456.5,223.89 457.5,223.90 458.5,223.91 459.5,223.92 460.5,223.93 461.5,223.94 462.5,223.95 463.5,223.96 464.5,223.97 465.5,223.98 466.5,223.99 467.5,224.00 468.5,224.01 469.5,224.02 470.5,224.03 471.5,224.04 472.5,224.05 473.5,224.06 474.5,224.07 475.5,224.08 476.5,224.09 477.5,224.10 478.5,224.11 479.5,224.12 480.5,224.13 481.5,224.14 482.5,224.15 483.5,224.16 484.5,224.17 485.5,224.18 486.5,224.19 487.5,224.21 488.5,224.22 489.5,224.23 490.5,224.24 491.5,224.25 492.5,224.26 493.5,224.27 494.5,224.28 495.5,224.29 496.5,224.30 497.5,224.31 498.5,224.32 499.5,224.33 500.5,224.34 501.5,224.35 502.5,224.36 503.5,224.38 504.5,224.39 505.5,224.40 506.5,224.41 507.5,224.42 508.5,224.43 509.5,224.44 510.5,224.45 511.5,224.46 512.5,224.47 513.5,224.48 514.5,224.50 515.5,224.51 516.5,224.52 517.5,224.53 518.5,224.54 519.5,224.55 520.5,224.56 521.5,224.57 522.5,224.59 523.5,224.60 524.5,224.61 525.5,224.62 526.5,224.63 527.5,224.64 528.5,224.65 529.5,224.67 530.5,224.68 531.5,224.69 532.5,224.70 533.5,224.71 534.5,224.72 535.5,224.74 536.5,224.75 537.5,224.76 538.5,224.77 539.5,224.78 540.5,224.79 541.0,224.80" fill="none" stroke="#000" stroke-width="1.60" stroke-linejoin="round" stroke-linecap="round"/>
<polyline points="91.5,269.50 92.5,269.07 93.5,268.64 94.5,268.22 95.5,267.80 96.5,267.39 97.5,266.98 98.5,266.57 99.5,266.17 100.5,265.78 101.5,265.39 102.5,265.00 103.5,264.62 104.5,264.25 105.5,263.88 106.5,263.52 107.5,263.16 108.5,262.81 109.5,262.46 110.5,262.10 111.5,261.75 112.5,261.40 113.5,261.04 114.5,260.68 115.5,260.32 116.5,259.94 117.5,259.55 118.5,259.15 119.5,258.75 120.5,258.34 121.5,257.92 122.5,257.50 123.5,257.08 124.5,256.66 125.5,256.23 126.5,255.82 127.5,255.40 128.5,255.00 129.5,254.60 130.5,254.21 131.5,253.83 132.5,253.46 133.5,253.10 134.5,252.77 135.5,252.45 136.5,252.14 137.5,251.86 138.5,251.60 139.5,251.36 140.5,251.14 141.5,250.93 142.5,250.71 143.5,250.50 144.5,250.28 145.5,250.07 146.5,249.86 147.5,249.66 148.5,249.45 149.5,249.26 150.5,249.07 151.5,248.88 152.5,248.71 153.5,248.54 154.5,248.38 155.5,248.24 156.5,248.10 157.5,247.97 158.5,247.86 159.5,247.76 160.5,247.68 161.5,247.61 162.5,247.56 163.5,247.52 164.5,247.50 165.5,247.50 166.5,247.50 167.5,247.50 168.5,247.50 169.5,247.50 170.5,247.50 171.5,247.50 172.5,247.50 173.5,247.50 174.5,247.50 175.5,247.50 176.5,247.50 177.5,247.50 178.5,247.50 179.5,247.50 180.5,247.50 181.5,247.50 182.5,247.50 183.5,247.48 184.5,247.43 185.5,247.34 186.5,247.22 187.5,247.09 188.5,246.92 189.5,246.75 190.5,246.55 191.5,246.35 192.5,246.14 193.5,245.93 194.5,245.72 195.5,245.52 196.5,245.32 197.5,245.13 198.5,244.96 199.5,244.81 200.5,244.68 201.5,244.57 202.5,244.50 203.5,244.44 204.5,244.39 205.5,244.34 206.5,244.30 207.5,244.26 208.5,244.22 209.5,244.18 210.5,244.15 211.5,244.11 212.5,244.08 213.5,244.05 214.5,244.02 215.5,243.99 216.5,243.96 217.5,243.94 218.5,243.91 219.5,243.88 220.5,243.85 221.5,243.82 222.5,243.78 223.5,243.75 224.5,243.71 225.5,243.67 226.5,243.63 227.5,243.59 228.5,243.55 229.5,243.51 230.5,243.47 231.5,243.43 232.5,243.40 233.5,243.36 234.5,243.33 235.5,243.31 236.5,243.29 237.5,243.27 238.5,243.26 239.5,243.25 240.5,243.25 241.5,243.25 242.5,243.25 243.5,243.26 244.5,243.26 245.5,243.27 246.5,243.28 247.5,243.29 248.5,243.30 249.5,243.31 250.5,243.32 251.5,243.33 252.5,243.34 253.5,243.36 254.5,243.37 255.5,243.39 256.5,243.40 257.5,243.42 258.5,243.43 259.5,243.45 260.5,243.47 261.5,243.48 262.5,243.50 263.5,243.52 264.5,243.53 265.5,243.55 266.5,243.57 267.5,243.58 268.5,243.60 269.5,243.61 270.5,243.63 271.5,243.64 272.5,243.66 273.5,243.67 274.5,243.68 275.5,243.69 276.5,243.70 277.5,243.71 278.5,243.72 279.5,243.73 280.5,243.74 281.5,243.74 282.5,243.75 283.5,243.75 284.5,243.75 285.5,243.75 286.5,243.74 287.5,243.73 288.5,243.71 289.5,243.69 290.5,243.66 291.5,243.62 292.5,243.59 293.5,243.55 294.5,243.51 295.5,243.46 296.5,243.42 297.5,243.38 298.5,243.33 299.5,243.29 300.5,243.24 301.5,243.20 302.5,243.16 303.5,243.13 304.5,243.09 305.5,243.06 306.5,243.04 307.5,243.02 308.5,243.01 309.5,243.00 310.5,243.00 311.5,243.01 312.5,243.02 313.5,243.04 314.5,243.06 315.5,243.09 316.5,243.12 317.5,243.16 318.5,243.20 319.5,243.25 320.5,243.29 321.5,243.34 322.5,243.40 323.5,243.45 324.5,243.51 325.5,243.57 326.5,243.63 327.5,243.69 328.5,243.75 329.5,243.81 330.5,243.87 331.5,243.93 332.5,243.99 333.5,244.05 334.5,244.10 335.5,244.16 336.5,244.21 337.5,244.25 338.5,244.30 339.5,244.34 340.5,244.38 341.5,244.41 342.5,244.44 343.5,244.46 344.5,244.48 345.5,244.49 346.5,244.50 347.5,244.50 348.5,244.49 349.5,244.48 350.5,244.47 351.5,244.45 352.5,244.42 353.5,244.39 354.5,244.36 355.5,244.32 356.5,244.28 357.5,244.24 358.5,244.19 359.5,244.14 360.5,244.09 361.5,244.04 362.5,243.98 363.5,243.93 364.5,243.87 365.5,243.81 366.5,243.76 367.5,243.70 368.5,243.64 369.5,243.59 370.5,243.53 371.5,243.48 372.5,243.42 373.5,243.37 374.5,243.32 375.5,243.27 376.5,243.23 377.5,243.19 378.5,243.15 379.5,243.12 380.5,243.08 381.5,243.06 382.5,243.03 383.5,243.02 384.5,243.00 385.5,243.00 386.5,242.99 387.5,242.98 388.5,242.97 389.5,242.97 390.5,242.96 391.5,242.96 392.5,242.95 393.5,242.94 394.5,242.94 395.5,242.93 396.5,242.93 397.5,242.92 398.5,242.92 399.5,242.92 400.5,242.91 401.5,242.91 402.5,242.91 403.5,242.90 404.5,242.90 405.5,242.90 406.5,242.90 407.5,242.90 408.5,242.90 409.5,242.90 410.5,242.90 411.5,242.91 412.5,242.91 413.5,242.91 414.5,242.91 415.5,242.92 416.5,242.92 417.5,242.93 418.5,242.93 419.5,242.94 420.5,242.94 421.5,242.95 422.5,242.95 423.5,242.96 424.5,242.96 425.5,242.97 426.5,242.98 427.5,242.98 428.5,242.99 429.5,242.99 430.5,243.00 431.5,243.00 432.5,243.00 433.5,243.01 434.5,243.01 435.5,243.01 436.5,243.02 437.5,243.02 438.5,243.03 439.5,243.03 440.5,243.03 441.5,243.04 442.5,243.04 443.5,243.05 444.5,243.05 445.5,243.05 446.5,243.06 447.5,243.06 448.5,243.07 449.5,243.07 450.5,243.07 451.5,243.08 452.5,243.08 453.5,243.08 454.5,243.09 455.5,243.09 456.5,243.10 457.5,243.10 458.5,243.10 459.5,243.11 460.5,243.11 461.5,243.12 462.5,243.12 463.5,243.12 464.5,243.13 465.5,243.13 466.5,243.13 467.5,243.14 468.5,243.14 469.5,243.15 470.5,243.15 471.5,243.15 472.5,243.16 473.5,243.16 474.5,243.16 475.5,243.17 476.5,243.17 477.5,243.18 478.5,243.18 479.5,243.18 480.5,243.19 481.5,243.19 482.5,243.19 483.5,243.20 484.5,243.20 485.5,243.21 486.5,243.21 487.5,243.21 488.5,243.22 489.5,243.22 490.5,243.22 491.5,243.23 492.5,243.23 493.5,243.24 494.5,243.24 495.5,243.24 496.5,243.25 497.5,243.25 498.5,243.25 499.5,243.26 500.5,243.26 501.5,243.26 502.5,243.27 503.5,243.27 504.5,243.27 505.5,243.28 506.5,243.28 507.5,243.29 508.5,243.29 509.5,243.29 510.5,243.30 511.5,243.30 512.5,243.30 513.5,243.31 514.5,243.31 515.5,243.31 516.5,243.32 517.5,243.32 518.5,243.32 519.5,243.33 520.5,243.33 521.5,243.33 522.5,243.34 523.5,243.34 524.5,243.34 525.5,243.35 526.5,243.35 527.5,243.36 528.5,243.36 529.5,243.36 530.5,243.37 531.5,243.37 532.5,243.37 533.5,243.38 534.5,243.38 535.5,243.38 536.5,243.39 537.5,243.39 538.5,243.39 539.5,243.40 540.5,243.40 541.0,243.40" fill="none" stroke="#000" stroke-width="1.60" stroke-linejoin="round" stroke-linecap="round"/>
<polyline points="91.0,410.00 92.0,409.94 93.0,409.88 94.0,409.82 95.0,409.77 96.0,409.72 97.0,409.68 98.0,409.64 99.0,409.60 100.0,409.57 101.0,409.55 102.0,409.53 103.0,409.51 104.0,409.50 105.0,409.50 106.0,409.51 107.0,409.52 108.0,409.54 109.0,409.57 110.0,409.61 111.0,409.66 112.0,409.71 113.0,409.77 114.0,409.83 115.0,409.89 116.0,409.96 117.0,410.03 118.0,410.10 119.0,410.17 120.0,410.24 121.0,410.31 122.0,410.38 123.0,410.44 124.0,410.50 125.0,410.56 126.0,410.62 127.0,410.66 128.0,410.71 129.0,410.74 130.0,410.77 131.0,410.79 132.0,410.80 133.0,410.80 134.0,410.76 135.0,410.70 136.0,410.61 137.0,410.50 138.0,410.38 139.0,410.24 140.0,410.09 141.0,409.94 142.0,409.78 143.0,409.63 144.0,409.49 145.0,409.36 146.0,409.24 147.0,409.14 148.0,409.07 149.0,409.02 150.0,409.00 151.0,409.02 152.0,409.09 153.0,409.20 154.0,409.33 155.0,409.50 156.0,409.68 157.0,409.88 158.0,410.09 159.0,410.30 160.0,410.52 161.0,410.72 162.0,410.91 163.0,411.09 164.0,411.24 165.0,411.36 166.0,411.45 167.0,411.49 168.0,411.49 169.0,411.45 170.0,411.37 171.0,411.27 172.0,411.13 173.0,410.98 174.0,410.82 175.0,410.65 176.0,410.48 177.0,410.32 178.0,410.17 179.0,410.03 180.0,409.93 181.0,409.85 182.0,409.81 183.0,409.80 184.0,409.80 185.0,409.81 186.0,409.82 187.0,409.83 188.0,409.85 189.0,409.86 190.0,409.88 191.0,409.90 192.0,409.91 193.0,409.93 194.0,409.95 195.0,409.96 196.0,409.97 197.0,409.98 198.0,409.99 199.0,410.00 200.0,410.00 201.0,409.97 202.0,409.89 203.0,409.77 204.0,409.61 205.0,409.43 206.0,409.23 207.0,409.01 208.0,408.79 209.0,408.57 210.0,408.37 211.0,408.19 212.0,408.03 213.0,407.91 214.0,407.83 215.0,407.80 216.0,407.81 217.0,407.84 218.0,407.89 219.0,407.96 220.0,408.04 221.0,408.12 222.0,408.22 223.0,408.31 224.0,408.40 225.0,408.48 226.0,408.55 227.0,408.61 228.0,408.66 229.0,408.68 230.0,408.68 231.0,408.65 232.0,408.61 233.0,408.54 234.0,408.45 235.0,408.35 236.0,408.24 237.0,408.12 238.0,407.98 239.0,407.84 240.0,407.69 241.0,407.54 242.0,407.39 243.0,407.23 244.0,407.05 245.0,406.86 246.0,406.64 247.0,406.41 248.0,406.14 249.0,405.85 250.0,405.53 251.0,405.17 252.0,404.77 253.0,404.34 254.0,403.86 255.0,403.33 256.0,402.75 257.0,402.13 258.0,401.45 259.0,400.71 260.0,399.91 261.0,399.05 262.0,398.13 263.0,397.14 264.0,396.10 265.0,394.98 266.0,393.81 267.0,392.58 268.0,391.29 269.0,389.94 270.0,388.55 271.0,387.11 272.0,385.63 273.0,384.12 274.0,382.58 275.0,381.03 276.0,379.46 277.0,377.90 278.0,376.35 279.0,374.82 280.0,373.33 281.0,371.87 282.0,370.48 283.0,369.15 284.0,367.89 285.0,366.72 286.0,365.65 287.0,364.69 288.0,363.84 289.0,363.11 290.0,362.51 291.0,362.05 292.0,361.72 293.0,361.54 294.0,361.51 295.0,361.76 296.0,362.31 297.0,363.16 298.0,364.28 299.0,365.65 300.0,367.24 301.0,369.03 302.0,370.97 303.0,373.04 304.0,375.20 305.0,377.41 306.0,379.64 307.0,381.86 308.0,384.04 309.0,386.15 310.0,388.17 311.0,390.09 312.0,391.89 313.0,393.56 314.0,395.10 315.0,396.49 316.0,397.75 317.0,398.88 318.0,399.87 319.0,400.74 320.0,401.50 321.0,402.15 322.0,402.71 323.0,403.17 324.0,403.56 325.0,403.89 326.0,404.15 327.0,404.36 328.0,404.53 329.0,404.66 330.0,404.76 331.0,404.83 332.0,404.89 333.0,404.92 334.0,404.95 335.0,404.96 336.0,404.96 337.0,404.95 338.0,404.94 339.0,404.93 340.0,404.91 341.0,404.89 342.0,404.87 343.0,404.84 344.0,404.82 345.0,404.79 346.0,404.76 347.0,404.73 348.0,404.71 349.0,404.68 350.0,404.65 351.0,404.62 352.0,404.59 353.0,404.56 354.0,404.53 355.0,404.50 356.0,404.47 357.0,404.43 358.0,404.40 359.0,404.36 360.0,404.32 361.0,404.29 362.0,404.25 363.0,404.21 364.0,404.17 365.0,404.13 366.0,404.09 367.0,404.05 368.0,404.01 369.0,403.98 370.0,403.94 371.0,403.91 372.0,403.88 373.0,403.85 374.0,403.83 375.0,403.80 376.0,403.79 377.0,403.77 378.0,403.76 379.0,403.75 380.0,403.75 381.0,403.76 382.0,403.79 383.0,403.83 384.0,403.89 385.0,403.96 386.0,404.05 387.0,404.14 388.0,404.24 389.0,404.34 390.0,404.45 391.0,404.57 392.0,404.68 393.0,404.80 394.0,404.91 395.0,405.01 396.0,405.11 397.0,405.20 398.0,405.29 399.0,405.36 400.0,405.42 401.0,405.46 402.0,405.49 403.0,405.50 404.0,405.50 405.0,405.50 406.0,405.50 407.0,405.50 408.0,405.50 409.0,405.49 410.0,405.49 411.0,405.49 412.0,405.49 413.0,405.48 414.0,405.48 415.0,405.48 416.0,405.48 417.0,405.47 418.0,405.47 419.0,405.46 420.0,405.46 421.0,405.45 422.0,405.45 423.0,405.44 424.0,405.44 425.0,405.43 426.0,405.43 427.0,405.42 428.0,405.42 429.0,405.41 430.0,405.40 431.0,405.40 432.0,405.39 433.0,405.38 434.0,405.38 435.0,405.37 436.0,405.36 437.0,405.36 438.0,405.35 439.0,405.34 440.0,405.33 441.0,405.33 442.0,405.32 443.0,405.31 444.0,405.30 445.0,405.30 446.0,405.29 447.0,405.28 448.0,405.27 449.0,405.27 450.0,405.26 451.0,405.25 452.0,405.24 453.0,405.23 454.0,405.22 455.0,405.21 456.0,405.19 457.0,405.18 458.0,405.16 459.0,405.15 460.0,405.13 461.0,405.11 462.0,405.09 463.0,405.07 464.0,405.05 465.0,405.03 466.0,405.01 467.0,404.99 468.0,404.97 469.0,404.95 470.0,404.93 471.0,404.91 472.0,404.89 473.0,404.87 474.0,404.85 475.0,404.84 476.0,404.82 477.0,404.80 478.0,404.79 479.0,404.77 480.0,404.76 481.0,404.75 482.0,404.73 483.0,404.73 484.0,404.72 485.0,404.71 486.0,404.70 487.0,404.70 488.0,404.70 489.0,404.71 490.0,404.75 491.0,404.83 492.0,404.93 493.0,405.06 494.0,405.21 495.0,405.37 496.0,405.55 497.0,405.73 498.0,405.92 499.0,406.11 500.0,406.30 501.0,406.48 502.0,406.65 503.0,406.80 504.0,406.93 505.0,407.04 506.0,407.13 507.0,407.18 508.0,407.20 509.0,407.20 510.0,407.20 511.0,407.20 512.0,407.20 513.0,407.20 514.0,407.19 515.0,407.19 516.0,407.18 517.0,407.18 518.0,407.17 519.0,407.16 520.0,407.14 521.0,407.13 522.0,407.11 523.0,407.09 524.0,407.06 525.0,407.04 526.0,407.01 527.0,406.97 528.0,406.93 529.0,406.89 530.0,406.84 531.0,406.79 532.0,406.74 533.0,406.68 534.0,406.61 535.0,406.54 536.0,406.47 537.0,406.39 538.0,406.30 539.0,406.21 540.0,406.11 541.0,406.00" fill="none" stroke="#000" stroke-width="1.60" stroke-linejoin="round" stroke-linecap="round"/>
<polyline points="91.0,438.75 92.0,438.65 93.0,438.56 94.0,438.48 95.0,438.40 96.0,438.33 97.0,438.26 98.0,438.20 99.0,438.14 100.0,438.09 101.0,438.05 102.0,438.00 103.0,437.97 104.0,437.93 105.0,437.90 106.0,437.88 107.0,437.85 108.0,437.83 109.0,437.81 110.0,437.80 111.0,437.79 112.0,437.78 113.0,437.77 114.0,437.76 115.0,437.76 116.0,437.75 117.0,437.75 118.0,437.75 119.0,437.75 120.0,437.75 121.0,437.75 122.0,437.79 123.0,437.91 124.0,438.09 125.0,438.31 126.0,438.56 127.0,438.82 128.0,439.07 129.0,439.31 130.0,439.51 131.0,439.66 132.0,439.74 133.0,439.75 134.0,439.72 135.0,439.68 136.0,439.62 137.0,439.54 138.0,439.46 139.0,439.36 140.0,439.26 141.0,439.15 142.0,439.04 143.0,438.94 144.0,438.84 145.0,438.75 146.0,438.67 147.0,438.60 148.0,438.55 149.0,438.51 150.0,438.50 151.0,438.50 152.0,438.52 153.0,438.54 154.0,438.56 155.0,438.60 156.0,438.64 157.0,438.68 158.0,438.73 159.0,438.79 160.0,438.85 161.0,438.92 162.0,438.99 163.0,439.06 164.0,439.13 165.0,439.21 166.0,439.29 167.0,439.37 168.0,439.46 169.0,439.54 170.0,439.62 171.0,439.71 172.0,439.79 173.0,439.88 174.0,439.96 175.0,440.04 176.0,440.12 177.0,440.19 178.0,440.26 179.0,440.33 180.0,440.40 181.0,440.46 182.0,440.52 183.0,440.57 184.0,440.61 185.0,440.65 186.0,440.69 187.0,440.71 188.0,440.73 189.0,440.75 190.0,440.75 191.0,440.73 192.0,440.68 193.0,440.60 194.0,440.49 195.0,440.37 196.0,440.22 197.0,440.07 198.0,439.91 199.0,439.75 200.0,439.59 201.0,439.44 202.0,439.30 203.0,439.18 204.0,439.08 205.0,439.00 206.0,438.94 207.0,438.88 208.0,438.83 209.0,438.78 210.0,438.73 211.0,438.68 212.0,438.63 213.0,438.59 214.0,438.55 215.0,438.51 216.0,438.47 217.0,438.44 218.0,438.40 219.0,438.37 220.0,438.33 221.0,438.30 222.0,438.26 223.0,438.23 224.0,438.20 225.0,438.16 226.0,438.13 227.0,438.10 228.0,438.06 229.0,438.02 230.0,437.98 231.0,437.94 232.0,437.90 233.0,437.85 234.0,437.80 235.0,437.75 236.0,437.69 237.0,437.64 238.0,437.58 239.0,437.51 240.0,437.45 241.0,437.37 242.0,437.29 243.0,437.21 244.0,437.11 245.0,437.01 246.0,436.89 247.0,436.75 248.0,436.59 249.0,436.41 250.0,436.21 251.0,435.97 252.0,435.70 253.0,435.39 254.0,435.04 255.0,434.64 256.0,434.19 257.0,433.69 258.0,433.14 259.0,432.52 260.0,431.83 261.0,431.07 262.0,430.25 263.0,429.34 264.0,428.36 265.0,427.30 266.0,426.17 267.0,424.95 268.0,423.66 269.0,422.30 270.0,420.86 271.0,419.37 272.0,417.82 273.0,416.21 274.0,414.57 275.0,412.91 276.0,411.22 277.0,409.53 278.0,407.85 279.0,406.20 280.0,404.58 281.0,403.02 282.0,401.53 283.0,400.13 284.0,398.82 285.0,397.63 286.0,396.57 287.0,395.65 288.0,394.88 289.0,394.27 290.0,393.83 291.0,393.56 292.0,393.46 293.0,393.57 294.0,393.92 295.0,394.50 296.0,395.30 297.0,396.31 298.0,397.51 299.0,398.88 300.0,400.41 301.0,402.06 302.0,403.83 303.0,405.67 304.0,407.57 305.0,409.51 306.0,411.45 307.0,413.39 308.0,415.30 309.0,417.16 310.0,418.95 311.0,420.67 312.0,422.30 313.0,423.84 314.0,425.28 315.0,426.61 316.0,427.84 317.0,428.96 318.0,429.97 319.0,430.89 320.0,431.71 321.0,432.43 322.0,433.07 323.0,433.63 324.0,434.12 325.0,434.54 326.0,434.90 327.0,435.21 328.0,435.47 329.0,435.69 330.0,435.87 331.0,436.02 332.0,436.15 333.0,436.25 334.0,436.33 335.0,436.39 336.0,436.44 337.0,436.48 338.0,436.51 339.0,436.53 340.0,436.55 341.0,436.56 342.0,436.57 343.0,436.57 344.0,436.57 345.0,436.57 346.0,436.57 347.0,436.56 348.0,436.56 349.0,436.55 350.0,436.54 351.0,436.53 352.0,436.53 353.0,436.52 354.0,436.51 355.0,436.50 356.0,436.49 357.0,436.48 358.0,436.47 359.0,436.46 360.0,436.44 361.0,436.43 362.0,436.42 363.0,436.40 364.0,436.39 365.0,436.38 366.0,436.36 367.0,436.35 368.0,436.34 369.0,436.33 370.0,436.31 371.0,436.30 372.0,436.29 373.0,436.28 374.0,436.28 375.0,436.27 376.0,436.26 377.0,436.26 378.0,436.25 379.0,436.25 380.0,436.25 381.0,436.26 382.0,436.30 383.0,436.37 384.0,436.45 385.0,436.55 386.0,436.67 387.0,436.80 388.0,436.95 389.0,437.10 390.0,437.26 391.0,437.42 392.0,437.58 393.0,437.74 394.0,437.89 395.0,438.04 396.0,438.18 397.0,438.31 398.0,438.43 399.0,438.53 400.0,438.61 401.0,438.67 402.0,438.70 403.0,438.72 404.0,438.74 405.0,438.76 406.0,438.78 407.0,438.80 408.0,438.82 409.0,438.84 410.0,438.86 411.0,438.87 412.0,438.89 413.0,438.91 414.0,438.92 415.0,438.94 416.0,438.95 417.0,438.97 418.0,438.98 419.0,439.00 420.0,439.01 421.0,439.02 422.0,439.04 423.0,439.05 424.0,439.06 425.0,439.07 426.0,439.08 427.0,439.09 428.0,439.10 429.0,439.11 430.0,439.12 431.0,439.13 432.0,439.13 433.0,439.14 434.0,439.15 435.0,439.16 436.0,439.16 437.0,439.17 438.0,439.17 439.0,439.18 440.0,439.18 441.0,439.19 442.0,439.19 443.0,439.19 444.0,439.19 445.0,439.20 446.0,439.20 447.0,439.20 448.0,439.20 449.0,439.20 450.0,439.20 451.0,439.19 452.0,439.18 453.0,439.17 454.0,439.16 455.0,439.14 456.0,439.11 457.0,439.09 458.0,439.06 459.0,439.03 460.0,439.00 461.0,438.96 462.0,438.92 463.0,438.88 464.0,438.84 465.0,438.80 466.0,438.76 467.0,438.71 468.0,438.67 469.0,438.62 470.0,438.57 471.0,438.53 472.0,438.48 473.0,438.43 474.0,438.39 475.0,438.34 476.0,438.30 477.0,438.25 478.0,438.21 479.0,438.17 480.0,438.12 481.0,438.09 482.0,438.05 483.0,438.01 484.0,437.98 485.0,437.95 486.0,437.92 487.0,437.89 488.0,437.87 489.0,437.85 490.0,437.83 491.0,437.82 492.0,437.81 493.0,437.80 494.0,437.80 495.0,437.83 496.0,437.90 497.0,438.01 498.0,438.16 499.0,438.34 500.0,438.55 501.0,438.77 502.0,439.02 503.0,439.27 504.0,439.53 505.0,439.78 506.0,440.03 507.0,440.27 508.0,440.50 509.0,440.70 510.0,440.87 511.0,441.02 512.0,441.12 513.0,441.18 514.0,441.20 515.0,441.20 516.0,441.20 517.0,441.20 518.0,441.19 519.0,441.19 520.0,441.18 521.0,441.16 522.0,441.15 523.0,441.13 524.0,441.10 525.0,441.07 526.0,441.03 527.0,440.98 528.0,440.93 529.0,440.87 530.0,440.80 531.0,440.72 532.0,440.63 533.0,440.53 534.0,440.42 535.0,440.30 536.0,440.17 537.0,440.02 538.0,439.86 539.0,439.69 540.0,439.50 541.0,439.30" fill="none" stroke="#000" stroke-width="1.60" stroke-linejoin="round" stroke-linecap="round"/>
<polyline points="91.0,472.00 92.0,471.90 93.0,471.81 94.0,471.72 95.0,471.64 96.0,471.57 97.0,471.50 98.0,471.44 99.0,471.38 100.0,471.33 101.0,471.28 102.0,471.24 103.0,471.20 104.0,471.17 105.0,471.14 106.0,471.11 107.0,471.09 108.0,471.07 109.0,471.05 110.0,471.04 111.0,471.03 112.0,471.02 113.0,471.01 114.0,471.01 115.0,471.01 116.0,471.00 117.0,471.00 118.0,471.00 119.0,471.00 120.0,471.00 121.0,471.01 122.0,471.05 123.0,471.11 124.0,471.18 125.0,471.27 126.0,471.38 127.0,471.49 128.0,471.62 129.0,471.74 130.0,471.88 131.0,472.01 132.0,472.13 133.0,472.26 134.0,472.37 135.0,472.48 136.0,472.57 137.0,472.64 138.0,472.70 139.0,472.74 140.0,472.75 141.0,472.72 142.0,472.63 143.0,472.50 144.0,472.33 145.0,472.13 146.0,471.93 147.0,471.72 148.0,471.52 149.0,471.33 150.0,471.18 151.0,471.07 152.0,471.01 153.0,471.01 154.0,471.05 155.0,471.14 156.0,471.26 157.0,471.41 158.0,471.59 159.0,471.78 160.0,471.98 161.0,472.20 162.0,472.41 163.0,472.62 164.0,472.82 165.0,473.00 166.0,473.17 167.0,473.30 168.0,473.41 169.0,473.48 170.0,473.50 171.0,473.49 172.0,473.47 173.0,473.43 174.0,473.38 175.0,473.32 176.0,473.25 177.0,473.17 178.0,473.09 179.0,473.00 180.0,472.90 181.0,472.80 182.0,472.70 183.0,472.60 184.0,472.50 185.0,472.40 186.0,472.31 187.0,472.22 188.0,472.14 189.0,472.07 190.0,472.00 191.0,471.94 192.0,471.87 193.0,471.81 194.0,471.74 195.0,471.67 196.0,471.61 197.0,471.54 198.0,471.48 199.0,471.41 200.0,471.35 201.0,471.29 202.0,471.24 203.0,471.19 204.0,471.14 205.0,471.10 206.0,471.07 207.0,471.04 208.0,471.02 209.0,471.00 210.0,471.00 211.0,471.02 212.0,471.06 213.0,471.14 214.0,471.23 215.0,471.35 216.0,471.48 217.0,471.62 218.0,471.76 219.0,471.91 220.0,472.06 221.0,472.20 222.0,472.34 223.0,472.46 224.0,472.57 225.0,472.65 226.0,472.71 227.0,472.74 228.0,472.75 229.0,472.73 230.0,472.69 231.0,472.63 232.0,472.57 233.0,472.49 234.0,472.40 235.0,472.31 236.0,472.21 237.0,472.10 238.0,472.00 239.0,471.89 240.0,471.79 241.0,471.69 242.0,471.59 243.0,471.50 244.0,471.42 245.0,471.35 246.0,471.28 247.0,471.21 248.0,471.12 249.0,471.03 250.0,470.92 251.0,470.80 252.0,470.67 253.0,470.52 254.0,470.34 255.0,470.15 256.0,469.93 257.0,469.68 258.0,469.40 259.0,469.09 260.0,468.74 261.0,468.35 262.0,467.92 263.0,467.44 264.0,466.91 265.0,466.33 266.0,465.70 267.0,465.02 268.0,464.28 269.0,463.49 270.0,462.64 271.0,461.74 272.0,460.80 273.0,459.80 274.0,458.77 275.0,457.70 276.0,456.60 277.0,455.47 278.0,454.34 279.0,453.20 280.0,452.06 281.0,450.94 282.0,449.85 283.0,448.80 284.0,447.79 285.0,446.84 286.0,445.97 287.0,445.18 288.0,444.48 289.0,443.87 290.0,443.38 291.0,443.00 292.0,442.73 293.0,442.59 294.0,442.58 295.0,442.77 296.0,443.18 297.0,443.79 298.0,444.58 299.0,445.54 300.0,446.64 301.0,447.87 302.0,449.20 303.0,450.60 304.0,452.04 305.0,453.50 306.0,454.96 307.0,456.39 308.0,457.78 309.0,459.10 310.0,460.36 311.0,461.53 312.0,462.61 313.0,463.59 314.0,464.48 315.0,465.27 316.0,465.97 317.0,466.59 318.0,467.12 319.0,467.57 320.0,467.96 321.0,468.28 322.0,468.55 323.0,468.77 324.0,468.95 325.0,469.10 326.0,469.21 327.0,469.30 328.0,469.37 329.0,469.43 330.0,469.46 331.0,469.49 332.0,469.51 333.0,469.53 334.0,469.54 335.0,469.54 336.0,469.54 337.0,469.54 338.0,469.54 339.0,469.54 340.0,469.54 341.0,469.53 342.0,469.53 343.0,469.52 344.0,469.52 345.0,469.52 346.0,469.51 347.0,469.51 348.0,469.51 349.0,469.51 350.0,469.50 351.0,469.50 352.0,469.50 353.0,469.50 354.0,469.50 355.0,469.50 356.0,469.50 357.0,469.52 358.0,469.54 359.0,469.56 360.0,469.60 361.0,469.64 362.0,469.68 363.0,469.73 364.0,469.78 365.0,469.83 366.0,469.89 367.0,469.94 368.0,470.00 369.0,470.06 370.0,470.12 371.0,470.17 372.0,470.23 373.0,470.28 374.0,470.32 375.0,470.37 376.0,470.41 377.0,470.44 378.0,470.47 379.0,470.49 380.0,470.50 381.0,470.51 382.0,470.52 383.0,470.52 384.0,470.53 385.0,470.53 386.0,470.54 387.0,470.54 388.0,470.55 389.0,470.55 390.0,470.55 391.0,470.56 392.0,470.56 393.0,470.56 394.0,470.57 395.0,470.57 396.0,470.58 397.0,470.58 398.0,470.59 399.0,470.59 400.0,470.60 401.0,470.61 402.0,470.62 403.0,470.63 404.0,470.64 405.0,470.65 406.0,470.67 407.0,470.68 408.0,470.70 409.0,470.72 410.0,470.73 411.0,470.75 412.0,470.77 413.0,470.79 414.0,470.81 415.0,470.84 416.0,470.86 417.0,470.88 418.0,470.90 419.0,470.93 420.0,470.95 421.0,470.97 422.0,471.00 423.0,471.02 424.0,471.04 425.0,471.06 426.0,471.09 427.0,471.11 428.0,471.13 429.0,471.15 430.0,471.18 431.0,471.20 432.0,471.22 433.0,471.24 434.0,471.25 435.0,471.27 436.0,471.29 437.0,471.31 438.0,471.32 439.0,471.33 440.0,471.35 441.0,471.36 442.0,471.37 443.0,471.38 444.0,471.39 445.0,471.39 446.0,471.40 447.0,471.40 448.0,471.40 449.0,471.40 450.0,471.39 451.0,471.39 452.0,471.38 453.0,471.36 454.0,471.35 455.0,471.33 456.0,471.31 457.0,471.29 458.0,471.26 459.0,471.23 460.0,471.20 461.0,471.17 462.0,471.14 463.0,471.11 464.0,471.07 465.0,471.04 466.0,471.00 467.0,470.96 468.0,470.92 469.0,470.88 470.0,470.82 471.0,470.74 472.0,470.65 473.0,470.54 474.0,470.42 475.0,470.29 476.0,470.16 477.0,470.02 478.0,469.89 479.0,469.77 480.0,469.65 481.0,469.55 482.0,469.45 483.0,469.38 484.0,469.33 485.0,469.30 486.0,469.31 487.0,469.35 488.0,469.42 489.0,469.53 490.0,469.67 491.0,469.83 492.0,470.01 493.0,470.20 494.0,470.40 495.0,470.60 496.0,470.80 497.0,471.00 498.0,471.18 499.0,471.35 500.0,471.50 501.0,471.62 502.0,471.72 503.0,471.78 504.0,471.80 505.0,471.80 506.0,471.78 507.0,471.76 508.0,471.74 509.0,471.71 510.0,471.67 511.0,471.64 512.0,471.60 513.0,471.56 514.0,471.53 515.0,471.49 516.0,471.46 517.0,471.44 518.0,471.42 519.0,471.40 520.0,471.40 521.0,471.40 522.0,471.40 523.0,471.40 524.0,471.40 525.0,471.40 526.0,471.40 527.0,471.40 528.0,471.40 529.0,471.40 530.0,471.40 531.0,471.40 532.0,471.40 533.0,471.40 534.0,471.40 535.0,471.40 536.0,471.40 537.0,471.40 538.0,471.40 539.0,471.40 540.0,471.40 541.0,471.40" fill="none" stroke="#000" stroke-width="1.60" stroke-linejoin="round" stroke-linecap="round"/>
<polyline points="91.0,505.00 92.0,504.96 93.0,504.93 94.0,504.90 95.0,504.86 96.0,504.83 97.0,504.80 98.0,504.77 99.0,504.74 100.0,504.72 101.0,504.69 102.0,504.67 103.0,504.64 104.0,504.62 105.0,504.60 106.0,504.57 107.0,504.55 108.0,504.53 109.0,504.52 110.0,504.50 111.0,504.48 112.0,504.46 113.0,504.45 114.0,504.43 115.0,504.42 116.0,504.41 117.0,504.39 118.0,504.38 119.0,504.37 120.0,504.36 121.0,504.35 122.0,504.34 123.0,504.33 124.0,504.32 125.0,504.32 126.0,504.31 127.0,504.30 128.0,504.30 129.0,504.29 130.0,504.29 131.0,504.28 132.0,504.28 133.0,504.27 134.0,504.27 135.0,504.27 136.0,504.26 137.0,504.26 138.0,504.26 139.0,504.26 140.0,504.26 141.0,504.25 142.0,504.25 143.0,504.25 144.0,504.25 145.0,504.25 146.0,504.25 147.0,504.25 148.0,504.25 149.0,504.25 150.0,504.25 151.0,504.25 152.0,504.25 153.0,504.26 154.0,504.33 155.0,504.45 156.0,504.62 157.0,504.82 158.0,505.05 159.0,505.28 160.0,505.51 161.0,505.73 162.0,505.93 163.0,506.09 164.0,506.20 165.0,506.25 166.0,506.27 167.0,506.28 168.0,506.30 169.0,506.32 170.0,506.33 171.0,506.35 172.0,506.36 173.0,506.37 174.0,506.38 175.0,506.40 176.0,506.41 177.0,506.42 178.0,506.43 179.0,506.43 180.0,506.44 181.0,506.45 182.0,506.46 183.0,506.46 184.0,506.47 185.0,506.48 186.0,506.48 187.0,506.48 188.0,506.49 189.0,506.49 190.0,506.49 191.0,506.50 192.0,506.50 193.0,506.50 194.0,506.50 195.0,506.50 196.0,506.49 197.0,506.44 198.0,506.38 199.0,506.29 200.0,506.19 201.0,506.07 202.0,505.94 203.0,505.80 204.0,505.65 205.0,505.50 206.0,505.35 207.0,505.20 208.0,505.06 209.0,504.93 210.0,504.81 211.0,504.71 212.0,504.62 213.0,504.56 214.0,504.51 215.0,504.50 216.0,504.51 217.0,504.52 218.0,504.55 219.0,504.59 220.0,504.63 221.0,504.68 222.0,504.73 223.0,504.77 224.0,504.82 225.0,504.87 226.0,504.91 227.0,504.95 228.0,504.98 229.0,504.99 230.0,505.00 231.0,504.99 232.0,504.98 233.0,504.95 234.0,504.92 235.0,504.88 236.0,504.84 237.0,504.79 238.0,504.75 239.0,504.70 240.0,504.65 241.0,504.60 242.0,504.56 243.0,504.52 244.0,504.49 245.0,504.46 246.0,504.44 247.0,504.41 248.0,504.38 249.0,504.34 250.0,504.30 251.0,504.25 252.0,504.20 253.0,504.13 254.0,504.05 255.0,503.96 256.0,503.86 257.0,503.74 258.0,503.59 259.0,503.43 260.0,503.23 261.0,503.01 262.0,502.76 263.0,502.47 264.0,502.14 265.0,501.77 266.0,501.35 267.0,500.89 268.0,500.39 269.0,499.83 270.0,499.22 271.0,498.56 272.0,497.85 273.0,497.09 274.0,496.29 275.0,495.45 276.0,494.58 277.0,493.68 278.0,492.76 279.0,491.83 280.0,490.90 281.0,489.97 282.0,489.07 283.0,488.21 284.0,487.38 285.0,486.61 286.0,485.91 287.0,485.29 288.0,484.75 289.0,484.30 290.0,483.96 291.0,483.73 292.0,483.61 293.0,483.61 294.0,483.75 295.0,484.03 296.0,484.46 297.0,485.01 298.0,485.69 299.0,486.46 300.0,487.33 301.0,488.26 302.0,489.25 303.0,490.28 304.0,491.33 305.0,492.38 306.0,493.42 307.0,494.43 308.0,495.40 309.0,496.33 310.0,497.21 311.0,498.03 312.0,498.78 313.0,499.46 314.0,500.08 315.0,500.64 316.0,501.13 317.0,501.56 318.0,501.94 319.0,502.26 320.0,502.54 321.0,502.77 322.0,502.97 323.0,503.13 324.0,503.27 325.0,503.38 326.0,503.46 327.0,503.53 328.0,503.59 329.0,503.63 330.0,503.67 331.0,503.70 332.0,503.71 333.0,503.73 334.0,503.74 335.0,503.75 336.0,503.75 337.0,503.76 338.0,503.76 339.0,503.76 340.0,503.76 341.0,503.76 342.0,503.76 343.0,503.76 344.0,503.76 345.0,503.76 346.0,503.75 347.0,503.75 348.0,503.75 349.0,503.75 350.0,503.75 351.0,503.75 352.0,503.75 353.0,503.75 354.0,503.75 355.0,503.75 356.0,503.75 357.0,503.75 358.0,503.75 359.0,503.75 360.0,503.75 361.0,503.75 362.0,503.75 363.0,503.75 364.0,503.75 365.0,503.75 366.0,503.75 367.0,503.75 368.0,503.75 369.0,503.75 370.0,503.75 371.0,503.75 372.0,503.75 373.0,503.75 374.0,503.75 375.0,503.75 376.0,503.75 377.0,503.75 378.0,503.75 379.0,503.75 380.0,503.75 381.0,503.76 382.0,503.78 383.0,503.81 384.0,503.85 385.0,503.90 386.0,503.95 387.0,504.01 388.0,504.08 389.0,504.14 390.0,504.21 391.0,504.27 392.0,504.34 393.0,504.40 394.0,504.45 395.0,504.50 396.0,504.54 397.0,504.57 398.0,504.59 399.0,504.60 400.0,504.60 401.0,504.60 402.0,504.59 403.0,504.58 404.0,504.57 405.0,504.56 406.0,504.55 407.0,504.54 408.0,504.52 409.0,504.51 410.0,504.49 411.0,504.47 412.0,504.45 413.0,504.43 414.0,504.41 415.0,504.38 416.0,504.36 417.0,504.34 418.0,504.31 419.0,504.29 420.0,504.26 421.0,504.24 422.0,504.21 423.0,504.18 424.0,504.16 425.0,504.13 426.0,504.11 427.0,504.08 428.0,504.06 429.0,504.04 430.0,504.01 431.0,503.99 432.0,503.97 433.0,503.95 434.0,503.93 435.0,503.91 436.0,503.89 437.0,503.87 438.0,503.86 439.0,503.85 440.0,503.83 441.0,503.82 442.0,503.81 443.0,503.81 444.0,503.80 445.0,503.80 446.0,503.80 447.0,503.83 448.0,503.88 449.0,503.96 450.0,504.06 451.0,504.17 452.0,504.28 453.0,504.38 454.0,504.47 455.0,504.54 456.0,504.59 457.0,504.60 458.0,504.58 459.0,504.54 460.0,504.47 461.0,504.38 462.0,504.28 463.0,504.16 464.0,504.04 465.0,503.91 466.0,503.77 467.0,503.63 468.0,503.49 469.0,503.36 470.0,503.24 471.0,503.13 472.0,503.03 473.0,502.95 474.0,502.88 475.0,502.82 476.0,502.77 477.0,502.71 478.0,502.65 479.0,502.60 480.0,502.54 481.0,502.49 482.0,502.44 483.0,502.39 484.0,502.35 485.0,502.30 486.0,502.26 487.0,502.23 488.0,502.19 489.0,502.17 490.0,502.14 491.0,502.12 492.0,502.11 493.0,502.10 494.0,502.10 495.0,502.14 496.0,502.23 497.0,502.37 498.0,502.55 499.0,502.76 500.0,503.00 501.0,503.25 502.0,503.52 503.0,503.79 504.0,504.05 505.0,504.30 506.0,504.53 507.0,504.73 508.0,504.89 509.0,505.01 510.0,505.08 511.0,505.10 512.0,505.09 513.0,505.06 514.0,505.02 515.0,504.98 516.0,504.93 517.0,504.87 518.0,504.82 519.0,504.77 520.0,504.72 521.0,504.67 522.0,504.64 523.0,504.61 524.0,504.60 525.0,504.60 526.0,504.62 527.0,504.66 528.0,504.70 529.0,504.76 530.0,504.83 531.0,504.92 532.0,505.01 533.0,505.12 534.0,505.24 535.0,505.36 536.0,505.50 537.0,505.64 538.0,505.80 539.0,505.96 540.0,506.13 541.0,506.30" fill="none" stroke="#000" stroke-width="1.60" stroke-linejoin="round" stroke-linecap="round"/>
<polyline points="91.0,533.25 92.0,533.13 93.0,533.02 94.0,532.91 95.0,532.81 96.0,532.72 97.0,532.64 98.0,532.56 99.0,532.49 100.0,532.43 101.0,532.37 102.0,532.32 103.0,532.27 104.0,532.23 105.0,532.19 106.0,532.16 107.0,532.13 108.0,532.10 109.0,532.08 110.0,532.06 111.0,532.05 112.0,532.03 113.0,532.02 114.0,532.02 115.0,532.01 116.0,532.01 117.0,532.00 118.0,532.00 119.0,532.00 120.0,532.00 121.0,532.00 122.0,532.04 123.0,532.14 124.0,532.30 125.0,532.50 126.0,532.73 127.0,532.98 128.0,533.25 129.0,533.52 130.0,533.77 131.0,534.00 132.0,534.20 133.0,534.36 134.0,534.46 135.0,534.50 136.0,534.49 137.0,534.47 138.0,534.43 139.0,534.39 140.0,534.33 141.0,534.26 142.0,534.19 143.0,534.12 144.0,534.04 145.0,533.96 146.0,533.88 147.0,533.80 148.0,533.73 149.0,533.66 150.0,533.60 151.0,533.55 152.0,533.51 153.0,533.49 154.0,533.46 155.0,533.44 156.0,533.41 157.0,533.39 158.0,533.36 159.0,533.34 160.0,533.32 161.0,533.30 162.0,533.27 163.0,533.25 164.0,533.23 165.0,533.21 166.0,533.19 167.0,533.18 168.0,533.16 169.0,533.14 170.0,533.13 171.0,533.11 172.0,533.10 173.0,533.08 174.0,533.07 175.0,533.06 176.0,533.05 177.0,533.04 178.0,533.03 179.0,533.02 180.0,533.02 181.0,533.01 182.0,533.01 183.0,533.00 184.0,533.00 185.0,533.00 186.0,533.03 187.0,533.13 188.0,533.27 189.0,533.44 190.0,533.62 191.0,533.81 192.0,533.98 193.0,534.12 194.0,534.21 195.0,534.25 196.0,534.24 197.0,534.22 198.0,534.19 199.0,534.15 200.0,534.09 201.0,534.03 202.0,533.97 203.0,533.90 204.0,533.82 205.0,533.75 206.0,533.68 207.0,533.60 208.0,533.53 209.0,533.47 210.0,533.41 211.0,533.35 212.0,533.31 213.0,533.28 214.0,533.26 215.0,533.25 216.0,533.26 217.0,533.27 218.0,533.30 219.0,533.34 220.0,533.38 221.0,533.43 222.0,533.48 223.0,533.52 224.0,533.57 225.0,533.62 226.0,533.66 227.0,533.70 228.0,533.73 229.0,533.74 230.0,533.75 231.0,533.75 232.0,533.75 233.0,533.75 234.0,533.75 235.0,533.74 236.0,533.74 237.0,533.74 238.0,533.74 239.0,533.73 240.0,533.73 241.0,533.72 242.0,533.72 243.0,533.71 244.0,533.71 245.0,533.70 246.0,533.69 247.0,533.68 248.0,533.66 249.0,533.65 250.0,533.63 251.0,533.61 252.0,533.58 253.0,533.55 254.0,533.51 255.0,533.47 256.0,533.42 257.0,533.36 258.0,533.28 259.0,533.20 260.0,533.10 261.0,532.98 262.0,532.84 263.0,532.68 264.0,532.50 265.0,532.30 266.0,532.07 267.0,531.80 268.0,531.51 269.0,531.19 270.0,530.83 271.0,530.44 272.0,530.02 273.0,529.56 274.0,529.07 275.0,528.56 276.0,528.01 277.0,527.45 278.0,526.87 279.0,526.28 280.0,525.69 281.0,525.09 282.0,524.51 283.0,523.94 284.0,523.40 285.0,522.89 286.0,522.42 287.0,522.00 288.0,521.64 289.0,521.33 290.0,521.10 291.0,520.93 292.0,520.83 293.0,520.81 294.0,520.87 295.0,521.01 296.0,521.22 297.0,521.51 298.0,521.87 299.0,522.28 300.0,522.75 301.0,523.26 302.0,523.81 303.0,524.38 304.0,524.97 305.0,525.56 306.0,526.16 307.0,526.74 308.0,527.31 309.0,527.86 310.0,528.39 311.0,528.88 312.0,529.34 313.0,529.77 314.0,530.16 315.0,530.51 316.0,530.82 317.0,531.11 318.0,531.35 319.0,531.57 320.0,531.76 321.0,531.91 322.0,532.05 323.0,532.16 324.0,532.25 325.0,532.33 326.0,532.39 327.0,532.44 328.0,532.47 329.0,532.50 330.0,532.52 331.0,532.53 332.0,532.54 333.0,532.54 334.0,532.54 335.0,532.53 336.0,532.53 337.0,532.52 338.0,532.51 339.0,532.50 340.0,532.49 341.0,532.48 342.0,532.46 343.0,532.45 344.0,532.44 345.0,532.43 346.0,532.41 347.0,532.40 348.0,532.39 349.0,532.37 350.0,532.36 351.0,532.35 352.0,532.34 353.0,532.32 354.0,532.31 355.0,532.30 356.0,532.29 357.0,532.27 358.0,532.26 359.0,532.25 360.0,532.23 361.0,532.22 362.0,532.20 363.0,532.18 364.0,532.17 365.0,532.15 366.0,532.14 367.0,532.12 368.0,532.11 369.0,532.09 370.0,532.08 371.0,532.06 372.0,532.05 373.0,532.04 374.0,532.03 375.0,532.02 376.0,532.01 377.0,532.01 378.0,532.00 379.0,532.00 380.0,532.00 381.0,532.00 382.0,532.00 383.0,532.00 384.0,532.00 385.0,532.01 386.0,532.01 387.0,532.01 388.0,532.02 389.0,532.02 390.0,532.02 391.0,532.03 392.0,532.03 393.0,532.04 394.0,532.04 395.0,532.05 396.0,532.05 397.0,532.06 398.0,532.06 399.0,532.07 400.0,532.08 401.0,532.08 402.0,532.09 403.0,532.09 404.0,532.10 405.0,532.10 406.0,532.11 407.0,532.11 408.0,532.12 409.0,532.12 410.0,532.13 411.0,532.14 412.0,532.14 413.0,532.15 414.0,532.16 415.0,532.16 416.0,532.17 417.0,532.18 418.0,532.19 419.0,532.19 420.0,532.20 421.0,532.21 422.0,532.22 423.0,532.22 424.0,532.23 425.0,532.24 426.0,532.25 427.0,532.25 428.0,532.26 429.0,532.26 430.0,532.27 431.0,532.27 432.0,532.28 433.0,532.28 434.0,532.29 435.0,532.29 436.0,532.29 437.0,532.30 438.0,532.30 439.0,532.30 440.0,532.30 441.0,532.27 442.0,532.14 443.0,531.95 444.0,531.72 445.0,531.49 446.0,531.27 447.0,531.10 448.0,531.01 449.0,531.01 450.0,531.04 451.0,531.10 452.0,531.18 453.0,531.27 454.0,531.37 455.0,531.48 456.0,531.59 457.0,531.70 458.0,531.80 459.0,531.88 460.0,531.95 461.0,531.99 462.0,532.00 463.0,531.99 464.0,531.97 465.0,531.93 466.0,531.88 467.0,531.82 468.0,531.75 469.0,531.68 470.0,531.59 471.0,531.50 472.0,531.40 473.0,531.30 474.0,531.19 475.0,531.08 476.0,530.97 477.0,530.86 478.0,530.75 479.0,530.65 480.0,530.54 481.0,530.44 482.0,530.35 483.0,530.26 484.0,530.18 485.0,530.10 486.0,530.04 487.0,529.99 488.0,529.95 489.0,529.92 490.0,529.90 491.0,529.92 492.0,530.03 493.0,530.24 494.0,530.53 495.0,530.87 496.0,531.25 497.0,531.64 498.0,532.03 499.0,532.40 500.0,532.72 501.0,532.99 502.0,533.17 503.0,533.27 504.0,533.36 505.0,533.45 506.0,533.54 507.0,533.62 508.0,533.70 509.0,533.76 510.0,533.82 511.0,533.88 512.0,533.92 513.0,533.96 514.0,533.98 515.0,534.00 516.0,534.00 517.0,534.00 518.0,533.99 519.0,533.97 520.0,533.95 521.0,533.92 522.0,533.89 523.0,533.85 524.0,533.81 525.0,533.76 526.0,533.70 527.0,533.64 528.0,533.56 529.0,533.49 530.0,533.40 531.0,533.31 532.0,533.21 533.0,533.11 534.0,533.00 535.0,532.88 536.0,532.75 537.0,532.62 538.0,532.47 539.0,532.32 540.0,532.17 541.0,532.00" fill="none" stroke="#000" stroke-width="1.60" stroke-linejoin="round" stroke-linecap="round"/>
<polyline points="91.0,560.00 92.0,559.91 93.0,559.83 94.0,559.75 95.0,559.68 96.0,559.62 97.0,559.57 98.0,559.52 99.0,559.47 100.0,559.43 101.0,559.40 102.0,559.37 103.0,559.34 104.0,559.32 105.0,559.30 106.0,559.29 107.0,559.28 108.0,559.27 109.0,559.26 110.0,559.26 111.0,559.25 112.0,559.25 113.0,559.25 114.0,559.25 115.0,559.25 116.0,559.27 117.0,559.32 118.0,559.40 119.0,559.51 120.0,559.64 121.0,559.79 122.0,559.95 123.0,560.13 124.0,560.32 125.0,560.51 126.0,560.71 127.0,560.90 128.0,561.09 129.0,561.28 130.0,561.45 131.0,561.60 132.0,561.74 133.0,561.85 134.0,561.94 135.0,562.00 136.0,562.04 137.0,562.08 138.0,562.12 139.0,562.16 140.0,562.20 141.0,562.23 142.0,562.26 143.0,562.29 144.0,562.32 145.0,562.35 146.0,562.37 147.0,562.40 148.0,562.42 149.0,562.44 150.0,562.47 151.0,562.49 152.0,562.51 153.0,562.53 154.0,562.55 155.0,562.57 156.0,562.58 157.0,562.60 158.0,562.62 159.0,562.64 160.0,562.66 161.0,562.67 162.0,562.69 163.0,562.71 164.0,562.73 165.0,562.75 166.0,562.77 167.0,562.79 168.0,562.81 169.0,562.83 170.0,562.86 171.0,562.88 172.0,562.90 173.0,562.92 174.0,562.95 175.0,562.97 176.0,562.99 177.0,563.01 178.0,563.03 179.0,563.05 180.0,563.08 181.0,563.09 182.0,563.11 183.0,563.13 184.0,563.15 185.0,563.16 186.0,563.18 187.0,563.19 188.0,563.21 189.0,563.22 190.0,563.23 191.0,563.23 192.0,563.24 193.0,563.25 194.0,563.25 195.0,563.25 196.0,563.24 197.0,563.21 198.0,563.16 199.0,563.09 200.0,563.02 201.0,562.93 202.0,562.83 203.0,562.72 204.0,562.61 205.0,562.50 206.0,562.39 207.0,562.28 208.0,562.17 209.0,562.07 210.0,561.98 211.0,561.91 212.0,561.84 213.0,561.79 214.0,561.76 215.0,561.75 216.0,561.75 217.0,561.76 218.0,561.76 219.0,561.77 220.0,561.78 221.0,561.80 222.0,561.81 223.0,561.83 224.0,561.85 225.0,561.87 226.0,561.90 227.0,561.92 228.0,561.95 229.0,561.97 230.0,562.00 231.0,562.04 232.0,562.10 233.0,562.18 234.0,562.28 235.0,562.39 236.0,562.50 237.0,562.62 238.0,562.74 239.0,562.85 240.0,562.96 241.0,563.05 242.0,563.13 243.0,563.20 244.0,563.24 245.0,563.25 246.0,563.25 247.0,563.25 248.0,563.25 249.0,563.25 250.0,563.24 251.0,563.24 252.0,563.24 253.0,563.24 254.0,563.23 255.0,563.23 256.0,563.22 257.0,563.22 258.0,563.21 259.0,563.20 260.0,563.19 261.0,563.18 262.0,563.16 263.0,563.14 264.0,563.12 265.0,563.09 266.0,563.06 267.0,563.01 268.0,562.96 269.0,562.90 270.0,562.82 271.0,562.73 272.0,562.62 273.0,562.49 274.0,562.35 275.0,562.17 276.0,561.98 277.0,561.76 278.0,561.52 279.0,561.25 280.0,560.96 281.0,560.65 282.0,560.32 283.0,559.98 284.0,559.63 285.0,559.29 286.0,558.95 287.0,558.62 288.0,558.32 289.0,558.04 290.0,557.81 291.0,557.61 292.0,557.46 293.0,557.36 294.0,557.32 295.0,557.32 296.0,557.36 297.0,557.44 298.0,557.55 299.0,557.69 300.0,557.87 301.0,558.06 302.0,558.28 303.0,558.51 304.0,558.76 305.0,559.02 306.0,559.27 307.0,559.53 308.0,559.79 309.0,560.03 310.0,560.27 311.0,560.50 312.0,560.71 313.0,560.90 314.0,561.08 315.0,561.24 316.0,561.39 317.0,561.51 318.0,561.62 319.0,561.72 320.0,561.80 321.0,561.87 322.0,561.92 323.0,561.96 324.0,562.00 325.0,562.02 326.0,562.04 327.0,562.05 328.0,562.05 329.0,562.05 330.0,562.04 331.0,562.03 332.0,562.02 333.0,562.01 334.0,561.99 335.0,561.97 336.0,561.95 337.0,561.93 338.0,561.91 339.0,561.89 340.0,561.87 341.0,561.84 342.0,561.82 343.0,561.79 344.0,561.77 345.0,561.75 346.0,561.72 347.0,561.70 348.0,561.67 349.0,561.65 350.0,561.62 351.0,561.60 352.0,561.57 353.0,561.55 354.0,561.52 355.0,561.50 356.0,561.47 357.0,561.44 358.0,561.40 359.0,561.36 360.0,561.32 361.0,561.27 362.0,561.22 363.0,561.17 364.0,561.11 365.0,561.06 366.0,561.00 367.0,560.95 368.0,560.90 369.0,560.84 370.0,560.79 371.0,560.74 372.0,560.70 373.0,560.66 374.0,560.62 375.0,560.58 376.0,560.56 377.0,560.53 378.0,560.51 379.0,560.50 380.0,560.50 381.0,560.51 382.0,560.53 383.0,560.57 384.0,560.62 385.0,560.68 386.0,560.75 387.0,560.82 388.0,560.91 389.0,561.00 390.0,561.09 391.0,561.19 392.0,561.28 393.0,561.38 394.0,561.47 395.0,561.56 396.0,561.65 397.0,561.73 398.0,561.80 399.0,561.87 400.0,561.92 401.0,561.96 402.0,561.99 403.0,562.00 404.0,562.00 405.0,562.00 406.0,562.00 407.0,562.00 408.0,562.00 409.0,561.99 410.0,561.99 411.0,561.99 412.0,561.99 413.0,561.99 414.0,561.98 415.0,561.98 416.0,561.98 417.0,561.97 418.0,561.97 419.0,561.97 420.0,561.96 421.0,561.96 422.0,561.96 423.0,561.95 424.0,561.95 425.0,561.95 426.0,561.94 427.0,561.94 428.0,561.94 429.0,561.93 430.0,561.93 431.0,561.92 432.0,561.92 433.0,561.92 434.0,561.92 435.0,561.91 436.0,561.91 437.0,561.91 438.0,561.91 439.0,561.90 440.0,561.90 441.0,561.90 442.0,561.90 443.0,561.90 444.0,561.90 445.0,561.90 446.0,561.92 447.0,561.95 448.0,561.99 449.0,562.04 450.0,562.10 451.0,562.17 452.0,562.24 453.0,562.32 454.0,562.40 455.0,562.49 456.0,562.58 457.0,562.66 458.0,562.75 459.0,562.83 460.0,562.90 461.0,562.97 462.0,563.04 463.0,563.09 464.0,563.14 465.0,563.17 466.0,563.19 467.0,563.20 468.0,563.18 469.0,563.12 470.0,563.02 471.0,562.89 472.0,562.74 473.0,562.56 474.0,562.37 475.0,562.17 476.0,561.96 477.0,561.75 478.0,561.55 479.0,561.35 480.0,561.17 481.0,561.00 482.0,560.85 483.0,560.74 484.0,560.65 485.0,560.61 486.0,560.60 487.0,560.64 488.0,560.70 489.0,560.80 490.0,560.92 491.0,561.06 492.0,561.22 493.0,561.40 494.0,561.60 495.0,561.80 496.0,562.00 497.0,562.21 498.0,562.42 499.0,562.62 500.0,562.82 501.0,563.01 502.0,563.18 503.0,563.33 504.0,563.46 505.0,563.56 506.0,563.64 507.0,563.69 508.0,563.70 509.0,563.64 510.0,563.51 511.0,563.33 512.0,563.12 513.0,562.89 514.0,562.67 515.0,562.47 516.0,562.30 517.0,562.15 518.0,561.99 519.0,561.83 520.0,561.68 521.0,561.54 522.0,561.43 523.0,561.35 524.0,561.30 525.0,561.30 526.0,561.31 527.0,561.32 528.0,561.34 529.0,561.37 530.0,561.41 531.0,561.46 532.0,561.52 533.0,561.60 534.0,561.69 535.0,561.79 536.0,561.91 537.0,562.05 538.0,562.21 539.0,562.39 540.0,562.58 541.0,562.80" fill="none" stroke="#000" stroke-width="1.60" stroke-linejoin="round" stroke-linecap="round"/>
<polyline points="91.0,588.75 92.0,588.67 93.0,588.60 94.0,588.53 95.0,588.47 96.0,588.41 97.0,588.35 98.0,588.31 99.0,588.26 100.0,588.22 101.0,588.19 102.0,588.16 103.0,588.13 104.0,588.10 105.0,588.08 106.0,588.06 107.0,588.05 108.0,588.04 109.0,588.02 110.0,588.02 111.0,588.01 112.0,588.01 113.0,588.00 114.0,588.00 115.0,588.00 116.0,588.01 117.0,588.03 118.0,588.08 119.0,588.13 120.0,588.20 121.0,588.27 122.0,588.35 123.0,588.44 124.0,588.53 125.0,588.62 126.0,588.72 127.0,588.81 128.0,588.90 129.0,588.98 130.0,589.05 131.0,589.12 132.0,589.17 133.0,589.22 134.0,589.24 135.0,589.25 136.0,589.23 137.0,589.19 138.0,589.11 139.0,589.02 140.0,588.90 141.0,588.77 142.0,588.63 143.0,588.49 144.0,588.34 145.0,588.19 146.0,588.04 147.0,587.91 148.0,587.79 149.0,587.68 150.0,587.60 151.0,587.54 152.0,587.50 153.0,587.50 154.0,587.51 155.0,587.52 156.0,587.54 157.0,587.56 158.0,587.59 159.0,587.63 160.0,587.66 161.0,587.71 162.0,587.76 163.0,587.81 164.0,587.86 165.0,587.92 166.0,587.98 167.0,588.04 168.0,588.10 169.0,588.17 170.0,588.24 171.0,588.31 172.0,588.38 173.0,588.45 174.0,588.52 175.0,588.59 176.0,588.66 177.0,588.73 178.0,588.80 179.0,588.86 180.0,588.93 181.0,588.99 182.0,589.05 183.0,589.11 184.0,589.17 185.0,589.22 186.0,589.27 187.0,589.31 188.0,589.36 189.0,589.39 190.0,589.42 191.0,589.45 192.0,589.47 193.0,589.49 194.0,589.50 195.0,589.50 196.0,589.49 197.0,589.47 198.0,589.44 199.0,589.40 200.0,589.34 201.0,589.28 202.0,589.20 203.0,589.12 204.0,589.03 205.0,588.94 206.0,588.83 207.0,588.73 208.0,588.62 209.0,588.51 210.0,588.39 211.0,588.28 212.0,588.16 213.0,588.05 214.0,587.94 215.0,587.82 216.0,587.72 217.0,587.61 218.0,587.52 219.0,587.42 220.0,587.34 221.0,587.26 222.0,587.19 223.0,587.13 224.0,587.08 225.0,587.04 226.0,587.02 227.0,587.00 228.0,587.00 229.0,587.03 230.0,587.07 231.0,587.14 232.0,587.21 233.0,587.30 234.0,587.40 235.0,587.51 236.0,587.62 237.0,587.73 238.0,587.84 239.0,587.95 240.0,588.04 241.0,588.13 242.0,588.20 243.0,588.25 244.0,588.29 245.0,588.30 246.0,588.28 247.0,588.24 248.0,588.16 249.0,588.07 250.0,587.96 251.0,587.84 252.0,587.71 253.0,587.59 254.0,587.46 255.0,587.34 256.0,587.23 257.0,587.14 258.0,587.06 259.0,587.02 260.0,587.00 261.0,587.01 262.0,587.05 263.0,587.11 264.0,587.18 265.0,587.27 266.0,587.38 267.0,587.49 268.0,587.62 269.0,587.74 270.0,587.88 271.0,588.01 272.0,588.13 273.0,588.26 274.0,588.37 275.0,588.48 276.0,588.57 277.0,588.64 278.0,588.70 279.0,588.74 280.0,588.75 281.0,588.74 282.0,588.73 283.0,588.70 284.0,588.66 285.0,588.62 286.0,588.57 287.0,588.51 288.0,588.44 289.0,588.37 290.0,588.29 291.0,588.21 292.0,588.12 293.0,588.03 294.0,587.94 295.0,587.85 296.0,587.76 297.0,587.66 298.0,587.57 299.0,587.48 300.0,587.39 301.0,587.30 302.0,587.22 303.0,587.14 304.0,587.07 305.0,587.00 306.0,586.93 307.0,586.86 308.0,586.79 309.0,586.71 310.0,586.64 311.0,586.56 312.0,586.48 313.0,586.40 314.0,586.32 315.0,586.24 316.0,586.16 317.0,586.09 318.0,586.01 319.0,585.94 320.0,585.87 321.0,585.81 322.0,585.75 323.0,585.70 324.0,585.65 325.0,585.60 326.0,585.57 327.0,585.54 328.0,585.52 329.0,585.50 330.0,585.50 331.0,585.50 332.0,585.51 333.0,585.53 334.0,585.55 335.0,585.58 336.0,585.62 337.0,585.65 338.0,585.69 339.0,585.74 340.0,585.78 341.0,585.83 342.0,585.88 343.0,585.92 344.0,585.97 345.0,586.02 346.0,586.06 347.0,586.11 348.0,586.15 349.0,586.18 350.0,586.22 351.0,586.25 352.0,586.27 353.0,586.29 354.0,586.30 355.0,586.30 356.0,586.29 357.0,586.27 358.0,586.23 359.0,586.18 360.0,586.11 361.0,586.04 362.0,585.96 363.0,585.87 364.0,585.77 365.0,585.67 366.0,585.56 367.0,585.45 368.0,585.35 369.0,585.24 370.0,585.13 371.0,585.03 372.0,584.93 373.0,584.84 374.0,584.76 375.0,584.69 376.0,584.62 377.0,584.57 378.0,584.53 379.0,584.51 380.0,584.50 381.0,584.51 382.0,584.52 383.0,584.55 384.0,584.59 385.0,584.63 386.0,584.68 387.0,584.74 388.0,584.81 389.0,584.88 390.0,584.96 391.0,585.04 392.0,585.12 393.0,585.20 394.0,585.29 395.0,585.38 396.0,585.46 397.0,585.55 398.0,585.63 399.0,585.71 400.0,585.79 401.0,585.86 402.0,585.93 403.0,585.99 404.0,586.05 405.0,586.10 406.0,586.14 407.0,586.17 408.0,586.19 409.0,586.20 410.0,586.20 411.0,586.20 412.0,586.20 413.0,586.20 414.0,586.20 415.0,586.20 416.0,586.20 417.0,586.20 418.0,586.20 419.0,586.20 420.0,586.20 421.0,586.20 422.0,586.20 423.0,586.20 424.0,586.20 425.0,586.20 426.0,586.20 427.0,586.20 428.0,586.20 429.0,586.20 430.0,586.20 431.0,586.20 432.0,586.20 433.0,586.20 434.0,586.20 435.0,586.21 436.0,586.21 437.0,586.22 438.0,586.23 439.0,586.24 440.0,586.26 441.0,586.27 442.0,586.29 443.0,586.31 444.0,586.32 445.0,586.34 446.0,586.36 447.0,586.38 448.0,586.40 449.0,586.41 450.0,586.43 451.0,586.44 452.0,586.46 453.0,586.47 454.0,586.48 455.0,586.49 456.0,586.50 457.0,586.50 458.0,586.50 459.0,586.49 460.0,586.48 461.0,586.46 462.0,586.43 463.0,586.39 464.0,586.35 465.0,586.31 466.0,586.26 467.0,586.20 468.0,586.15 469.0,586.09 470.0,586.03 471.0,585.96 472.0,585.90 473.0,585.82 474.0,585.72 475.0,585.59 476.0,585.44 477.0,585.28 478.0,585.10 479.0,584.92 480.0,584.73 481.0,584.55 482.0,584.37 483.0,584.20 484.0,584.04 485.0,583.91 486.0,583.79 487.0,583.69 488.0,583.63 489.0,583.60 490.0,583.61 491.0,583.67 492.0,583.77 493.0,583.91 494.0,584.09 495.0,584.29 496.0,584.52 497.0,584.77 498.0,585.03 499.0,585.30 500.0,585.59 501.0,585.87 502.0,586.15 503.0,586.42 504.0,586.69 505.0,586.93 506.0,587.15 507.0,587.35 508.0,587.52 509.0,587.65 510.0,587.75 511.0,587.79 512.0,587.80 513.0,587.76 514.0,587.70 515.0,587.62 516.0,587.53 517.0,587.44 518.0,587.37 519.0,587.32 520.0,587.30 521.0,587.32 522.0,587.37 523.0,587.45 524.0,587.53 525.0,587.61 526.0,587.67 527.0,587.70 528.0,587.71 529.0,587.73 530.0,587.74 531.0,587.75 532.0,587.76 533.0,587.77 534.0,587.77 535.0,587.78 536.0,587.79 537.0,587.79 538.0,587.80 539.0,587.80 540.0,587.80 541.0,587.80" fill="none" stroke="#000" stroke-width="1.60" stroke-linejoin="round" stroke-linecap="round"/>
<polyline points="181.40,277.00 183.00,277.20 185.00,276.80 186.00,278.50 188.00,279.00 189.50,278.20 191.00,277.60 193.00,277.90 195.00,276.90 197.00,276.60 199.00,277.20 201.00,277.00 203.00,277.60 205.00,277.40 207.00,278.00 209.00,277.70 212.00,278.30 214.00,278.60 216.00,277.60 218.00,277.20 220.00,276.00 222.00,275.40 224.00,274.60 226.00,275.30 228.00,275.50 230.00,275.00 233.70,275.00 236.00,275.30 239.00,275.10 242.70,275.60 246.00,275.40 249.30,275.70 252.70,273.00 256.00,270.30 257.30,268.70 260.00,268.60 262.70,268.00 266.00,266.00 269.30,263.30 272.70,262.30 276.00,261.30 277.00,261.00 278.00,258.50 283.00,257.00 290.00,256.80 293.00,258.50 296.00,261.50 298.00,263.00 301.00,264.00 304.00,264.50 307.00,266.20 307.50,271.00 310.00,271.50 310.50,274.00 313.50,274.70 315.00,275.70 318.50,276.20 322.00,276.40 327.50,276.70 333.00,276.40 339.50,274.80 344.00,275.70 354.50,277.50 365.00,278.20 369.00,277.50 372.50,275.20 375.00,276.00 377.50,276.50" fill="none" stroke="#000" stroke-width="1.40" stroke-linejoin="round"/>
<polyline points="182.00,323.60 204.50,323.60 204.50,320.30 211.00,320.30 211.00,322.50 214.50,322.50 214.50,323.60 222.00,323.60 222.00,320.30 228.50,320.30 228.50,322.50 232.00,322.50 232.00,319.50 240.00,319.50 240.00,318.00 245.00,318.00 245.00,315.00 249.50,315.00 249.50,311.00 256.00,311.00 256.00,307.00 259.50,307.00 259.50,297.00 261.00,297.00 261.00,295.50 263.50,295.50 263.50,293.20 266.80,293.20 266.80,306.50 269.50,306.50 269.50,310.50 273.50,310.50 273.50,308.20 280.00,308.20 280.00,314.00 283.00,314.00 283.00,315.50 286.50,315.50 286.50,311.50 294.00,311.50 294.00,317.50 297.00,317.50 297.00,318.20 301.00,318.20 301.00,315.20 304.50,315.20 304.50,318.20 306.00,318.20 306.00,319.30 309.00,319.30 309.00,321.00 314.00,321.00 314.00,322.20 317.50,322.20 317.50,323.30 335.00,323.30 335.00,321.60 337.30,321.60 337.30,317.50 338.50,317.50 338.50,316.70 341.40,316.70 341.40,318.70 343.80,318.70 343.80,320.50 345.50,320.50 345.50,321.80 350.00,321.80 350.00,322.80 354.80,322.80 354.80,321.60 360.00,321.60" fill="none" stroke="#000" stroke-width="1.15" stroke-linejoin="round"/>
<polyline points="240.30,274.95 241.80,274.68 243.30,274.37 244.80,274.02 246.30,273.63 247.80,273.18 249.30,272.68 250.80,272.12 252.30,271.51 253.80,270.84 255.30,270.12 256.80,269.35 258.30,268.52 259.80,267.66 261.30,266.75 262.80,265.81 264.30,264.85 265.80,263.88 267.30,262.91 268.80,261.95 270.30,261.02 271.80,260.12 273.30,259.28 274.80,258.49 276.30,257.79 277.80,257.17 279.30,256.66 280.80,256.25 282.30,255.96 283.80,255.79 285.30,255.74 286.80,255.84 288.30,256.10 289.80,256.52 291.30,257.08 292.80,257.78 294.30,258.60 295.80,259.51 297.30,260.51 298.80,261.57 300.30,262.68 301.80,263.80 303.30,264.94 304.80,266.05 306.30,267.14 307.80,268.19 309.30,269.19 310.80,270.12 312.30,270.99 313.80,271.79 315.30,272.51 316.80,273.16 318.30,273.74 319.80,274.25 321.30,274.70 322.80,275.08 324.30,275.41 325.80,275.70 327.30,275.93 328.80,276.13 330.30,276.30 331.80,276.44 333.30,276.55 334.80,276.64 336.30,276.72 337.80,276.78 339.30,276.83 340.80,276.87 342.30,276.90 343.80,276.93 345.30,276.95 346.80,276.97 348.30,276.99 349.80,277.00 351.30,277.02 352.80,277.03 354.30,277.04 355.80,277.05 357.30,277.06 358.80,277.07 360.30,277.08 361.80,277.09 363.30,277.10 364.80,277.11 366.30,277.12 367.80,277.13 369.30,277.13 370.80,277.14 372.30,277.15 373.80,277.16 375.30,277.17 376.80,277.18" fill="none" stroke="#c81c28" stroke-width="1.80" stroke-linejoin="round"/>
<polyline points="182.00,323.90 184.00,323.90 186.00,323.90 188.00,323.90 190.00,323.90 192.00,323.90 194.00,323.90 196.00,323.90 198.00,323.90 200.00,323.90 202.00,323.89 204.00,323.89 206.00,323.88 208.00,323.87 210.00,323.85 212.00,323.83 214.00,323.80 216.00,323.74 218.00,323.67 220.00,323.57 222.00,323.44 224.00,323.25 226.00,323.01 228.00,322.69 230.00,322.29 232.00,321.78 234.00,321.15 236.00,320.40 238.00,319.50 240.00,318.46 242.00,317.27 244.00,315.95 246.00,314.50 248.00,312.96 250.00,311.36 252.00,309.75 254.00,308.17 256.00,306.68 258.00,305.33 260.00,304.17 262.00,303.27 264.00,302.64 266.00,302.33 268.00,302.35 270.00,302.69 272.00,303.34 274.00,304.28 276.00,305.45 278.00,306.82 280.00,308.32 282.00,309.91 284.00,311.53 286.00,313.12 288.00,314.65 290.00,316.08 292.00,317.40 294.00,318.57 296.00,319.60 298.00,320.48 300.00,321.22 302.00,321.83 304.00,322.33 306.00,322.73 308.00,323.04 310.00,323.27 312.00,323.45 314.00,323.58 316.00,323.68 318.00,323.75 320.00,323.80 322.00,323.83 324.00,323.86 326.00,323.87 328.00,323.88 330.00,323.89 332.00,323.89 334.00,323.90 336.00,323.90 338.00,323.90 340.00,323.90 342.00,323.90 344.00,323.90 346.00,323.90 348.00,323.90 350.00,323.90 352.00,323.90 354.00,323.90 356.00,323.90 358.00,323.90 360.00,323.90" fill="none" stroke="#c81c28" stroke-width="1.80" stroke-linejoin="round"/>
<rect x="404.80" y="89.30" width="45.40" height="8.00" fill="#fff"/>
<text transform="translate(410.70 98.50) scale(1 1.045)" font-size="17" stroke="#000">44.4</text>
<rect x="402.80" y="109.20" width="45.20" height="8.00" fill="#fff"/>
<text transform="translate(409.60 122.50) scale(1 1.045)" font-size="17" stroke="#000">34.5</text>
<rect x="400.80" y="133.80" width="45.80" height="8.00" fill="#fff"/>
<text transform="translate(407.40 147.30) scale(1 1.045)" font-size="17" stroke="#000">24.7</text>
<rect x="400.10" y="163.60" width="45.10" height="8.00" fill="#fff"/>
<text transform="translate(407.40 176.00) scale(1 1.045)" font-size="17" stroke="#000">14.8</text>
<rect x="402.30" y="190.70" width="34.10" height="8.00" fill="#fff"/>
<text transform="translate(408.20 203.40) scale(1 1.045)" font-size="17" stroke="#000">9.9</text>
<rect x="402.80" y="219.30" width="32.80" height="8.00" fill="#fff"/>
<text transform="translate(408.20 231.50) scale(1 1.045)" font-size="17" stroke="#000">5.9</text>
<rect x="408.30" y="239.00" width="22.60" height="8.00" fill="#fff"/>
<text transform="translate(415.10 251.50) scale(1 1.045)" font-size="17" stroke="#000">0</text>
<rect x="404.50" y="401.40" width="45.20" height="8.00" fill="#fff"/>
<text transform="translate(410.90 411.00) scale(1 1.045)" font-size="17" stroke="#000">69.1</text>
<rect x="402.80" y="434.90" width="45.60" height="8.00" fill="#fff"/>
<text transform="translate(409.50 447.50) scale(1 1.045)" font-size="17" stroke="#000">49.4</text>
<rect x="400.80" y="466.60" width="46.50" height="8.00" fill="#fff"/>
<text transform="translate(408.30 479.50) scale(1 1.045)" font-size="17" stroke="#000">17.8</text>
<rect x="399.80" y="500.60" width="45.20" height="8.00" fill="#fff"/>
<text transform="translate(407.50 511.30) scale(1 1.045)" font-size="17" stroke="#000">10.6</text>
<rect x="405.60" y="528.10" width="33.80" height="8.00" fill="#fff"/>
<text transform="translate(411.20 541.00) scale(1 1.045)" font-size="17" stroke="#000">6.4</text>
<rect x="404.10" y="558.20" width="39.50" height="8.00" fill="#fff"/>
<text transform="translate(407.50 569.00) scale(1 1.045)" font-size="17" stroke="#000">2.14</text>
<rect x="410.20" y="582.10" width="22.10" height="8.00" fill="#fff"/>
<text transform="translate(417.40 598.80) scale(1 1.045)" font-size="17" stroke="#000">0</text>
<text transform="translate(79.60 329.40) scale(1 1.045)" font-size="21" text-anchor="end" stroke="#000">0.00</text>
<text transform="translate(79.60 273.90) scale(1 1.045)" font-size="21" text-anchor="end" stroke="#000">0.03</text>
<text transform="translate(79.60 218.30) scale(1 1.045)" font-size="21" text-anchor="end" stroke="#000">0.06</text>
<text transform="translate(79.60 162.75) scale(1 1.045)" font-size="21" text-anchor="end" stroke="#000">0.09</text>
<text transform="translate(79.60 107.10) scale(1 1.045)" font-size="21" text-anchor="end" stroke="#000">0.12</text>
<text transform="translate(77.60 617.40) scale(1 1.045)" font-size="21" text-anchor="end" stroke="#000">0.00</text>
<text transform="translate(77.60 546.53) scale(1 1.045)" font-size="21" text-anchor="end" stroke="#000">0.03</text>
<text transform="translate(77.60 475.67) scale(1 1.045)" font-size="21" text-anchor="end" stroke="#000">0.06</text>
<text transform="translate(77.60 404.80) scale(1 1.045)" font-size="21" text-anchor="end" stroke="#000">0.09</text>
<text transform="translate(186.33 47.30) scale(1 1.045)" font-size="21" text-anchor="middle" stroke="#000">4.35</text>
<text transform="translate(303.83 47.30) scale(1 1.045)" font-size="21" text-anchor="middle" stroke="#000">4.4</text>
<text transform="translate(418.69 47.30) scale(1 1.045)" font-size="21" text-anchor="middle" stroke="#000">4.45</text>
<text transform="translate(531.00 47.30) scale(1 1.045)" font-size="21" text-anchor="middle" stroke="#000">4.5</text>
<text transform="translate(91.20 642.30) scale(1 1.045)" font-size="21" text-anchor="middle" stroke="#000">2320</text>
<text transform="translate(181.16 642.30) scale(1 1.045)" font-size="21" text-anchor="middle" stroke="#000">2300</text>
<text transform="translate(271.12 642.30) scale(1 1.045)" font-size="21" text-anchor="middle" stroke="#000">2280</text>
<text transform="translate(361.08 642.30) scale(1 1.045)" font-size="21" text-anchor="middle" stroke="#000">2260</text>
<text transform="translate(451.04 642.30) scale(1 1.045)" font-size="21" text-anchor="middle" stroke="#000">2240</text>
<text transform="translate(541.00 642.30) scale(1 1.045)" font-size="21" text-anchor="middle" stroke="#000">2220</text>
<text transform="translate(249.00 16.00) scale(1 1.045)" font-size="21.4" stroke="#000">Wavelength (<tspan font-family="Liberation Serif" letter-spacing="-1">&#956;</tspan>m)</text>
<text transform="translate(245.30 675.00) scale(1 1.045)" font-size="21.4" stroke="#000">Wavenumber (cm<tspan font-size="13" dy="-9" dx="0.5">-1</tspan><tspan dy="9">)</tspan></text>
<text transform="translate(15.7,339.2) rotate(-90) scale(1 1.045)" font-size="21.4" text-anchor="middle" stroke="#000">Optical Depth</text>
<text transform="translate(547.50 81.00) scale(1 1.045)" font-size="21" stroke="#000">20 K</text>
<text transform="translate(546.50 373.00) scale(1 1.045)" font-size="21" stroke="#000">120 K</text>
<text transform="translate(173.00 272.80) scale(1 1.045)" font-size="13" fill="#c81c28" stroke="#c81c28">x 0.05</text>
<text transform="translate(207.50 314.20) scale(1 1.045)" font-size="13" fill="#c81c28" stroke="#c81c28">x 0.3</text>
<text transform="translate(381.00 282.30) scale(1 1.045)" font-size="13" stroke="#000">W 33A</text>
<text transform="translate(320.40 314.60) scale(1 1.045)" font-size="12.8" stroke="#000">S 140: IRS 1</text>
</svg>
</body></html>
